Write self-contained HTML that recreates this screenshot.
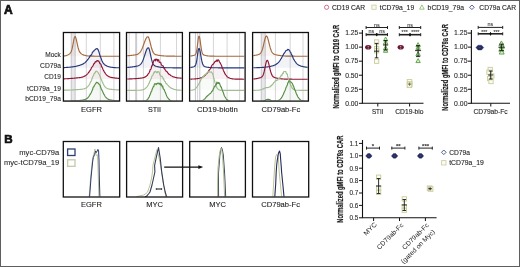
<!DOCTYPE html>
<html><head><meta charset="utf-8"><style>
html,body{margin:0;padding:0;background:#fff;}
svg{display:block;font-family:"Liberation Sans", sans-serif;will-change:transform;}
</style></head><body>
<svg width="520" height="267" viewBox="0 0 520 267">
<rect x="0.5" y="0.5" width="519" height="266" fill="#fff" stroke="#5e5e5e" stroke-width="1"/>
<text x="3.9" y="13.7" font-size="12.0" text-anchor="start" font-weight="bold" fill="#111" stroke="#111" stroke-width="0.7" >A</text>
<text x="4.3" y="142.5" font-size="11.6" text-anchor="start" font-weight="bold" fill="#111" stroke="#111" stroke-width="0.7" >B</text>
<rect x="70.8" y="32.5" width="4.80" height="68.60" fill="#e8e8ec"/>
<line x1="71.3" y1="32.5" x2="71.3" y2="101.1" stroke="#c8c8ce" stroke-width="1"/>
<line x1="75.1" y1="32.5" x2="75.1" y2="101.1" stroke="#c8c8ce" stroke-width="1"/>
<line x1="86.3" y1="32.5" x2="86.3" y2="101.1" stroke="#d6d6da" stroke-width="1"/>
<line x1="100.3" y1="32.5" x2="100.3" y2="101.1" stroke="#d6d6da" stroke-width="1"/>
<line x1="113.9" y1="32.5" x2="113.9" y2="101.1" stroke="#d6d6da" stroke-width="1"/>
<clipPath id="c63_32"><rect x="64.0" y="33.1" width="55.00" height="67.40"/></clipPath>
<g clip-path="url(#c63_32)">
<path d="M64.00,55.98 L64.50,55.91 L65.00,55.82 L65.50,55.71 L66.00,55.58 L66.50,55.42 L67.00,55.24 L67.50,55.03 L68.00,54.79 L68.50,54.52 L69.00,54.21 L69.50,53.85 L70.00,53.41 L70.50,52.82 L71.00,52.00 L71.50,50.83 L72.00,49.17 L72.50,46.99 L73.00,44.36 L73.50,41.54 L74.00,38.97 L74.50,37.16 L75.00,36.50 L75.50,36.98 L76.00,38.33 L76.50,40.32 L77.00,42.66 L77.50,45.05 L78.00,47.23 L78.50,49.08 L79.00,50.54 L79.50,51.64 L80.00,52.45 L80.50,53.05 L81.00,53.50 L81.50,53.87 L82.00,54.18 L82.50,54.45 L83.00,54.69 L83.50,54.90 L84.00,55.10 L84.50,55.27 L85.00,55.42 L85.50,55.56 L86.00,55.67 L86.50,55.77 L87.00,55.86 L87.50,55.93 L88.00,55.98 L88.50,56.03 L89.00,56.07 L89.50,56.10 L90.00,56.12 L90.50,56.14 L91.00,56.16 L91.50,56.17 L92.00,56.18 L92.50,56.18 L93.00,56.19 L93.50,56.19 L94.00,56.19 L94.50,56.20 L95.00,56.20 L95.50,56.20 L96.00,56.20 L96.50,56.20 L97.00,56.20 L97.50,56.20 L98.00,56.20 L98.50,56.20 L99.00,56.20 L99.50,56.20 L100.00,56.20 L100.50,56.20 L101.00,56.20 L101.50,56.20 L102.00,56.20 L102.50,56.20 L103.00,56.20 L103.50,56.20 L104.00,56.20 L104.50,56.20 L105.00,56.20 L105.50,56.20 L106.00,56.20 L106.50,56.20 L107.00,56.20 L107.50,56.20 L108.00,56.20 L108.50,56.20 L109.00,56.20 L109.50,56.20 L110.00,56.20 L110.50,56.20 L111.00,56.20 L111.50,56.20 L112.00,56.20 L112.50,56.20 L113.00,56.20 L113.50,56.20 L114.00,56.20 L114.50,56.20 L115.00,56.20 L115.50,56.20 L116.00,56.20 L116.50,56.20 L117.00,56.20 L117.50,56.20 L118.00,56.20 L118.50,56.20 L119.00,56.20 L119.00,56.2 L64.00,56.2 Z" fill="#a36a40" fill-opacity="0.06" stroke="none"/>
<path d="M64.00,55.98 L64.50,55.91 L65.00,55.82 L65.50,55.71 L66.00,55.58 L66.50,55.42 L67.00,55.24 L67.50,55.03 L68.00,54.79 L68.50,54.52 L69.00,54.21 L69.50,53.85 L70.00,53.41 L70.50,52.82 L71.00,52.00 L71.50,50.83 L72.00,49.17 L72.50,46.99 L73.00,44.36 L73.50,41.54 L74.00,38.97 L74.50,37.16 L75.00,36.50 L75.50,36.98 L76.00,38.33 L76.50,40.32 L77.00,42.66 L77.50,45.05 L78.00,47.23 L78.50,49.08 L79.00,50.54 L79.50,51.64 L80.00,52.45 L80.50,53.05 L81.00,53.50 L81.50,53.87 L82.00,54.18 L82.50,54.45 L83.00,54.69 L83.50,54.90 L84.00,55.10 L84.50,55.27 L85.00,55.42 L85.50,55.56 L86.00,55.67 L86.50,55.77 L87.00,55.86 L87.50,55.93 L88.00,55.98 L88.50,56.03 L89.00,56.07 L89.50,56.10 L90.00,56.12 L90.50,56.14 L91.00,56.16 L91.50,56.17 L92.00,56.18 L92.50,56.18 L93.00,56.19 L93.50,56.19 L94.00,56.19 L94.50,56.20 L95.00,56.20 L95.50,56.20 L96.00,56.20 L96.50,56.20 L97.00,56.20 L97.50,56.20 L98.00,56.20 L98.50,56.20 L99.00,56.20 L99.50,56.20 L100.00,56.20 L100.50,56.20 L101.00,56.20 L101.50,56.20 L102.00,56.20 L102.50,56.20 L103.00,56.20 L103.50,56.20 L104.00,56.20 L104.50,56.20 L105.00,56.20 L105.50,56.20 L106.00,56.20 L106.50,56.20 L107.00,56.20 L107.50,56.20 L108.00,56.20 L108.50,56.20 L109.00,56.20 L109.50,56.20 L110.00,56.20 L110.50,56.20 L111.00,56.20 L111.50,56.20 L112.00,56.20 L112.50,56.20 L113.00,56.20 L113.50,56.20 L114.00,56.20 L114.50,56.20 L115.00,56.20 L115.50,56.20 L116.00,56.20 L116.50,56.20 L117.00,56.20 L117.50,56.20 L118.00,56.20 L118.50,56.20 L119.00,56.20" fill="none" stroke="#a36a40" stroke-width="1.15" stroke-linejoin="round"/>
<path d="M64.00,67.58 L64.50,67.56 L65.00,67.53 L65.50,67.50 L66.00,67.48 L66.50,67.44 L67.00,67.41 L67.50,67.37 L68.00,67.33 L68.50,67.29 L69.00,67.25 L69.50,67.20 L70.00,67.15 L70.50,67.09 L71.00,67.04 L71.50,66.98 L72.00,66.91 L72.50,66.86 L73.00,66.77 L73.50,66.71 L74.00,66.60 L74.50,66.52 L75.00,66.49 L75.50,66.40 L76.00,66.21 L76.50,66.18 L77.00,66.07 L77.50,65.85 L78.00,65.80 L78.50,65.61 L79.00,65.54 L79.50,65.36 L80.00,65.30 L80.50,65.03 L81.00,64.80 L81.50,64.68 L82.00,64.40 L82.50,64.18 L83.00,64.10 L83.50,63.60 L84.00,63.34 L84.50,63.10 L85.00,62.83 L85.50,62.05 L86.00,61.76 L86.50,61.13 L87.00,60.48 L87.50,59.97 L88.00,59.18 L88.50,58.86 L89.00,57.83 L89.50,57.36 L90.00,56.15 L90.50,55.38 L91.00,55.35 L91.50,54.53 L92.00,53.67 L92.50,52.02 L93.00,51.94 L93.50,51.02 L94.00,50.86 L94.50,50.05 L95.00,49.79 L95.50,49.50 L96.00,48.92 L96.50,48.79 L97.00,48.52 L97.50,49.04 L98.00,49.47 L98.50,50.70 L99.00,51.91 L99.50,53.81 L100.00,55.88 L100.50,56.77 L101.00,58.17 L101.50,59.56 L102.00,60.93 L102.50,61.85 L103.00,62.89 L103.50,63.34 L104.00,64.00 L104.50,64.56 L105.00,65.00 L105.50,65.16 L106.00,65.43 L106.50,65.85 L107.00,65.97 L107.50,66.23 L108.00,66.45 L108.50,66.60 L109.00,66.71 L109.50,66.87 L110.00,67.00 L110.50,67.11 L111.00,67.21 L111.50,67.30 L112.00,67.38 L112.50,67.44 L113.00,67.50 L113.50,67.55 L114.00,67.60 L114.50,67.63 L115.00,67.66 L115.50,67.69 L116.00,67.71 L116.50,67.73 L117.00,67.74 L117.50,67.75 L118.00,67.76 L118.50,67.77 L119.00,67.78 L119.00,67.8 L64.00,67.8 Z" fill="#26367a" fill-opacity="0.06" stroke="none"/>
<path d="M64.00,67.58 L64.50,67.56 L65.00,67.53 L65.50,67.50 L66.00,67.48 L66.50,67.44 L67.00,67.41 L67.50,67.37 L68.00,67.33 L68.50,67.29 L69.00,67.25 L69.50,67.20 L70.00,67.15 L70.50,67.09 L71.00,67.04 L71.50,66.98 L72.00,66.91 L72.50,66.86 L73.00,66.77 L73.50,66.71 L74.00,66.60 L74.50,66.52 L75.00,66.49 L75.50,66.40 L76.00,66.21 L76.50,66.18 L77.00,66.07 L77.50,65.85 L78.00,65.80 L78.50,65.61 L79.00,65.54 L79.50,65.36 L80.00,65.30 L80.50,65.03 L81.00,64.80 L81.50,64.68 L82.00,64.40 L82.50,64.18 L83.00,64.10 L83.50,63.60 L84.00,63.34 L84.50,63.10 L85.00,62.83 L85.50,62.05 L86.00,61.76 L86.50,61.13 L87.00,60.48 L87.50,59.97 L88.00,59.18 L88.50,58.86 L89.00,57.83 L89.50,57.36 L90.00,56.15 L90.50,55.38 L91.00,55.35 L91.50,54.53 L92.00,53.67 L92.50,52.02 L93.00,51.94 L93.50,51.02 L94.00,50.86 L94.50,50.05 L95.00,49.79 L95.50,49.50 L96.00,48.92 L96.50,48.79 L97.00,48.52 L97.50,49.04 L98.00,49.47 L98.50,50.70 L99.00,51.91 L99.50,53.81 L100.00,55.88 L100.50,56.77 L101.00,58.17 L101.50,59.56 L102.00,60.93 L102.50,61.85 L103.00,62.89 L103.50,63.34 L104.00,64.00 L104.50,64.56 L105.00,65.00 L105.50,65.16 L106.00,65.43 L106.50,65.85 L107.00,65.97 L107.50,66.23 L108.00,66.45 L108.50,66.60 L109.00,66.71 L109.50,66.87 L110.00,67.00 L110.50,67.11 L111.00,67.21 L111.50,67.30 L112.00,67.38 L112.50,67.44 L113.00,67.50 L113.50,67.55 L114.00,67.60 L114.50,67.63 L115.00,67.66 L115.50,67.69 L116.00,67.71 L116.50,67.73 L117.00,67.74 L117.50,67.75 L118.00,67.76 L118.50,67.77 L119.00,67.78" fill="none" stroke="#26367a" stroke-width="1.15" stroke-linejoin="round"/>
<path d="M64.00,78.85 L64.50,78.83 L65.00,78.80 L65.50,78.78 L66.00,78.75 L66.50,78.73 L67.00,78.70 L67.50,78.67 L68.00,78.64 L68.50,78.61 L69.00,78.58 L69.50,78.55 L70.00,78.51 L70.50,78.48 L71.00,78.44 L71.50,78.40 L72.00,78.36 L72.50,78.32 L73.00,78.28 L73.50,78.21 L74.00,78.23 L74.50,78.14 L75.00,78.15 L75.50,78.04 L76.00,78.03 L76.50,77.92 L77.00,77.86 L77.50,77.85 L78.00,77.74 L78.50,77.76 L79.00,77.72 L79.50,77.59 L80.00,77.59 L80.50,77.49 L81.00,77.37 L81.50,77.23 L82.00,77.19 L82.50,77.08 L83.00,76.77 L83.50,76.70 L84.00,76.36 L84.50,76.12 L85.00,75.98 L85.50,75.65 L86.00,75.27 L86.50,74.82 L87.00,74.38 L87.50,73.88 L88.00,73.29 L88.50,72.49 L89.00,72.04 L89.50,71.36 L90.00,70.39 L90.50,69.92 L91.00,69.03 L91.50,67.56 L92.00,67.08 L92.50,66.17 L93.00,65.89 L93.50,64.61 L94.00,63.63 L94.50,63.63 L95.00,62.21 L95.50,61.64 L96.00,62.01 L96.50,60.88 L97.00,60.92 L97.50,60.54 L98.00,61.11 L98.50,60.89 L99.00,61.33 L99.50,62.95 L100.00,63.65 L100.50,63.77 L101.00,64.45 L101.50,66.29 L102.00,67.15 L102.50,68.10 L103.00,69.39 L103.50,70.37 L104.00,71.35 L104.50,72.20 L105.00,72.89 L105.50,73.75 L106.00,74.36 L106.50,74.78 L107.00,75.51 L107.50,75.76 L108.00,76.07 L108.50,76.47 L109.00,76.74 L109.50,76.84 L110.00,77.12 L110.50,77.27 L111.00,77.36 L111.50,77.44 L112.00,77.61 L112.50,77.67 L113.00,77.75 L113.50,77.77 L114.00,77.88 L114.50,77.90 L115.00,78.03 L115.50,78.07 L116.00,78.10 L116.50,78.14 L117.00,78.23 L117.50,78.30 L118.00,78.33 L118.50,78.38 L119.00,78.42 L119.00,79.2 L64.00,79.2 Z" fill="#8e1533" fill-opacity="0.06" stroke="none"/>
<path d="M64.00,78.85 L64.50,78.83 L65.00,78.80 L65.50,78.78 L66.00,78.75 L66.50,78.73 L67.00,78.70 L67.50,78.67 L68.00,78.64 L68.50,78.61 L69.00,78.58 L69.50,78.55 L70.00,78.51 L70.50,78.48 L71.00,78.44 L71.50,78.40 L72.00,78.36 L72.50,78.32 L73.00,78.28 L73.50,78.21 L74.00,78.23 L74.50,78.14 L75.00,78.15 L75.50,78.04 L76.00,78.03 L76.50,77.92 L77.00,77.86 L77.50,77.85 L78.00,77.74 L78.50,77.76 L79.00,77.72 L79.50,77.59 L80.00,77.59 L80.50,77.49 L81.00,77.37 L81.50,77.23 L82.00,77.19 L82.50,77.08 L83.00,76.77 L83.50,76.70 L84.00,76.36 L84.50,76.12 L85.00,75.98 L85.50,75.65 L86.00,75.27 L86.50,74.82 L87.00,74.38 L87.50,73.88 L88.00,73.29 L88.50,72.49 L89.00,72.04 L89.50,71.36 L90.00,70.39 L90.50,69.92 L91.00,69.03 L91.50,67.56 L92.00,67.08 L92.50,66.17 L93.00,65.89 L93.50,64.61 L94.00,63.63 L94.50,63.63 L95.00,62.21 L95.50,61.64 L96.00,62.01 L96.50,60.88 L97.00,60.92 L97.50,60.54 L98.00,61.11 L98.50,60.89 L99.00,61.33 L99.50,62.95 L100.00,63.65 L100.50,63.77 L101.00,64.45 L101.50,66.29 L102.00,67.15 L102.50,68.10 L103.00,69.39 L103.50,70.37 L104.00,71.35 L104.50,72.20 L105.00,72.89 L105.50,73.75 L106.00,74.36 L106.50,74.78 L107.00,75.51 L107.50,75.76 L108.00,76.07 L108.50,76.47 L109.00,76.74 L109.50,76.84 L110.00,77.12 L110.50,77.27 L111.00,77.36 L111.50,77.44 L112.00,77.61 L112.50,77.67 L113.00,77.75 L113.50,77.77 L114.00,77.88 L114.50,77.90 L115.00,78.03 L115.50,78.07 L116.00,78.10 L116.50,78.14 L117.00,78.23 L117.50,78.30 L118.00,78.33 L118.50,78.38 L119.00,78.42" fill="none" stroke="#8e1533" stroke-width="1.15" stroke-linejoin="round"/>
<path d="M64.00,90.20 L64.50,90.19 L65.00,90.18 L65.50,90.17 L66.00,90.16 L66.50,90.15 L67.00,90.13 L67.50,90.12 L68.00,90.11 L68.50,90.09 L69.00,90.07 L69.50,90.06 L70.00,90.04 L70.50,90.02 L71.00,90.00 L71.50,89.97 L72.00,89.95 L72.50,89.93 L73.00,89.90 L73.50,89.87 L74.00,89.85 L74.50,89.82 L75.00,89.79 L75.50,89.76 L76.00,89.72 L76.50,89.69 L77.00,89.65 L77.50,89.62 L78.00,89.58 L78.50,89.54 L79.00,89.50 L79.50,89.46 L80.00,89.41 L80.50,89.36 L81.00,89.34 L81.50,89.25 L82.00,89.22 L82.50,89.08 L83.00,88.99 L83.50,88.96 L84.00,88.82 L84.50,88.61 L85.00,88.44 L85.50,88.19 L86.00,88.00 L86.50,87.73 L87.00,87.31 L87.50,86.72 L88.00,86.33 L88.50,85.69 L89.00,84.95 L89.50,84.14 L90.00,83.26 L90.50,81.95 L91.00,81.42 L91.50,80.46 L92.00,78.49 L92.50,77.35 L93.00,76.04 L93.50,75.54 L94.00,73.86 L94.50,72.94 L95.00,73.12 L95.50,71.75 L96.00,71.17 L96.50,71.19 L97.00,71.39 L97.50,71.98 L98.00,72.39 L98.50,73.27 L99.00,74.39 L99.50,74.80 L100.00,76.37 L100.50,77.09 L101.00,79.14 L101.50,79.69 L102.00,81.13 L102.50,82.18 L103.00,83.31 L103.50,84.31 L104.00,85.32 L104.50,86.26 L105.00,86.65 L105.50,87.33 L106.00,87.73 L106.50,88.01 L107.00,88.32 L107.50,88.57 L108.00,88.69 L108.50,88.88 L109.00,89.03 L109.50,89.13 L110.00,89.16 L110.50,89.27 L111.00,89.31 L111.50,89.39 L112.00,89.44 L112.50,89.49 L113.00,89.54 L113.50,89.58 L114.00,89.62 L114.50,89.66 L115.00,89.70 L115.50,89.74 L116.00,89.77 L116.50,89.81 L117.00,89.84 L117.50,89.87 L118.00,89.90 L118.50,89.93 L119.00,89.96 L119.00,90.3 L64.00,90.3 Z" fill="#a0bd90" fill-opacity="0.06" stroke="none"/>
<path d="M64.00,90.20 L64.50,90.19 L65.00,90.18 L65.50,90.17 L66.00,90.16 L66.50,90.15 L67.00,90.13 L67.50,90.12 L68.00,90.11 L68.50,90.09 L69.00,90.07 L69.50,90.06 L70.00,90.04 L70.50,90.02 L71.00,90.00 L71.50,89.97 L72.00,89.95 L72.50,89.93 L73.00,89.90 L73.50,89.87 L74.00,89.85 L74.50,89.82 L75.00,89.79 L75.50,89.76 L76.00,89.72 L76.50,89.69 L77.00,89.65 L77.50,89.62 L78.00,89.58 L78.50,89.54 L79.00,89.50 L79.50,89.46 L80.00,89.41 L80.50,89.36 L81.00,89.34 L81.50,89.25 L82.00,89.22 L82.50,89.08 L83.00,88.99 L83.50,88.96 L84.00,88.82 L84.50,88.61 L85.00,88.44 L85.50,88.19 L86.00,88.00 L86.50,87.73 L87.00,87.31 L87.50,86.72 L88.00,86.33 L88.50,85.69 L89.00,84.95 L89.50,84.14 L90.00,83.26 L90.50,81.95 L91.00,81.42 L91.50,80.46 L92.00,78.49 L92.50,77.35 L93.00,76.04 L93.50,75.54 L94.00,73.86 L94.50,72.94 L95.00,73.12 L95.50,71.75 L96.00,71.17 L96.50,71.19 L97.00,71.39 L97.50,71.98 L98.00,72.39 L98.50,73.27 L99.00,74.39 L99.50,74.80 L100.00,76.37 L100.50,77.09 L101.00,79.14 L101.50,79.69 L102.00,81.13 L102.50,82.18 L103.00,83.31 L103.50,84.31 L104.00,85.32 L104.50,86.26 L105.00,86.65 L105.50,87.33 L106.00,87.73 L106.50,88.01 L107.00,88.32 L107.50,88.57 L108.00,88.69 L108.50,88.88 L109.00,89.03 L109.50,89.13 L110.00,89.16 L110.50,89.27 L111.00,89.31 L111.50,89.39 L112.00,89.44 L112.50,89.49 L113.00,89.54 L113.50,89.58 L114.00,89.62 L114.50,89.66 L115.00,89.70 L115.50,89.74 L116.00,89.77 L116.50,89.81 L117.00,89.84 L117.50,89.87 L118.00,89.90 L118.50,89.93 L119.00,89.96" fill="none" stroke="#a0bd90" stroke-width="1.15" stroke-linejoin="round"/>
<path d="M64.00,101.20 L64.50,101.19 L65.00,101.18 L65.50,101.16 L66.00,101.15 L66.50,101.14 L67.00,101.13 L67.50,101.11 L68.00,101.10 L68.50,101.08 L69.00,101.07 L69.50,101.05 L70.00,101.03 L70.50,101.01 L71.00,100.99 L71.50,100.97 L72.00,100.94 L72.50,100.92 L73.00,100.89 L73.50,100.87 L74.00,100.84 L74.50,100.81 L75.00,100.78 L75.50,100.75 L76.00,100.72 L76.50,100.69 L77.00,100.65 L77.50,100.62 L78.00,100.58 L78.50,100.54 L79.00,100.50 L79.50,100.46 L80.00,100.42 L80.50,100.37 L81.00,100.33 L81.50,100.29 L82.00,100.19 L82.50,100.10 L83.00,100.07 L83.50,99.91 L84.00,99.78 L84.50,99.65 L85.00,99.47 L85.50,99.39 L86.00,99.04 L86.50,98.69 L87.00,98.51 L87.50,98.04 L88.00,97.56 L88.50,96.90 L89.00,96.27 L89.50,95.50 L90.00,94.51 L90.50,94.03 L91.00,93.04 L91.50,91.96 L92.00,90.88 L92.50,89.83 L93.00,87.79 L93.50,86.77 L94.00,86.61 L94.50,85.12 L95.00,84.51 L95.50,83.80 L96.00,83.19 L96.50,82.38 L97.00,82.29 L97.50,82.65 L98.00,83.14 L98.50,83.38 L99.00,84.31 L99.50,84.53 L100.00,85.29 L100.50,86.77 L101.00,88.23 L101.50,89.27 L102.00,90.26 L102.50,91.24 L103.00,92.25 L103.50,93.59 L104.00,94.33 L104.50,95.32 L105.00,96.21 L105.50,96.92 L106.00,97.49 L106.50,97.95 L107.00,98.46 L107.50,98.77 L108.00,99.12 L108.50,99.40 L109.00,99.56 L109.50,99.71 L110.00,99.92 L110.50,99.99 L111.00,100.09 L111.50,100.13 L112.00,100.20 L112.50,100.30 L113.00,100.32 L113.50,100.40 L114.00,100.45 L114.50,100.49 L115.00,100.53 L115.50,100.57 L116.00,100.61 L116.50,100.65 L117.00,100.69 L117.50,100.72 L118.00,100.75 L118.50,100.79 L119.00,100.82 L119.00,101.3 L64.00,101.3 Z" fill="#568e44" fill-opacity="0.06" stroke="none"/>
<path d="M64.00,101.20 L64.50,101.19 L65.00,101.18 L65.50,101.16 L66.00,101.15 L66.50,101.14 L67.00,101.13 L67.50,101.11 L68.00,101.10 L68.50,101.08 L69.00,101.07 L69.50,101.05 L70.00,101.03 L70.50,101.01 L71.00,100.99 L71.50,100.97 L72.00,100.94 L72.50,100.92 L73.00,100.89 L73.50,100.87 L74.00,100.84 L74.50,100.81 L75.00,100.78 L75.50,100.75 L76.00,100.72 L76.50,100.69 L77.00,100.65 L77.50,100.62 L78.00,100.58 L78.50,100.54 L79.00,100.50 L79.50,100.46 L80.00,100.42 L80.50,100.37 L81.00,100.33 L81.50,100.29 L82.00,100.19 L82.50,100.10 L83.00,100.07 L83.50,99.91 L84.00,99.78 L84.50,99.65 L85.00,99.47 L85.50,99.39 L86.00,99.04 L86.50,98.69 L87.00,98.51 L87.50,98.04 L88.00,97.56 L88.50,96.90 L89.00,96.27 L89.50,95.50 L90.00,94.51 L90.50,94.03 L91.00,93.04 L91.50,91.96 L92.00,90.88 L92.50,89.83 L93.00,87.79 L93.50,86.77 L94.00,86.61 L94.50,85.12 L95.00,84.51 L95.50,83.80 L96.00,83.19 L96.50,82.38 L97.00,82.29 L97.50,82.65 L98.00,83.14 L98.50,83.38 L99.00,84.31 L99.50,84.53 L100.00,85.29 L100.50,86.77 L101.00,88.23 L101.50,89.27 L102.00,90.26 L102.50,91.24 L103.00,92.25 L103.50,93.59 L104.00,94.33 L104.50,95.32 L105.00,96.21 L105.50,96.92 L106.00,97.49 L106.50,97.95 L107.00,98.46 L107.50,98.77 L108.00,99.12 L108.50,99.40 L109.00,99.56 L109.50,99.71 L110.00,99.92 L110.50,99.99 L111.00,100.09 L111.50,100.13 L112.00,100.20 L112.50,100.30 L113.00,100.32 L113.50,100.40 L114.00,100.45 L114.50,100.49 L115.00,100.53 L115.50,100.57 L116.00,100.61 L116.50,100.65 L117.00,100.69 L117.50,100.72 L118.00,100.75 L118.50,100.79 L119.00,100.82" fill="none" stroke="#568e44" stroke-width="1.15" stroke-linejoin="round"/>
</g>
<rect x="63.4" y="32.5" width="56.199999999999996" height="68.6" fill="none" stroke="#111" stroke-width="1.3"/>
<line x1="129.2" y1="32.5" x2="129.2" y2="101.1" stroke="#d6d6da" stroke-width="1"/>
<rect x="135.3" y="32.5" width="1.80" height="68.60" fill="#e8e8ec"/>
<line x1="135.8" y1="32.5" x2="135.8" y2="101.1" stroke="#c8c8ce" stroke-width="1"/>
<line x1="136.6" y1="32.5" x2="136.6" y2="101.1" stroke="#c8c8ce" stroke-width="1"/>
<line x1="143.4" y1="32.5" x2="143.4" y2="101.1" stroke="#d6d6da" stroke-width="1"/>
<line x1="160.4" y1="32.5" x2="160.4" y2="101.1" stroke="#d6d6da" stroke-width="1"/>
<line x1="176.5" y1="32.5" x2="176.5" y2="101.1" stroke="#d6d6da" stroke-width="1"/>
<clipPath id="c126_32"><rect x="127.1" y="33.1" width="54.70" height="67.40"/></clipPath>
<g clip-path="url(#c126_32)">
<path d="M127.10,55.75 L127.60,55.71 L128.10,55.67 L128.61,55.63 L129.11,55.59 L129.61,55.54 L130.11,55.50 L130.61,55.45 L131.11,55.40 L131.62,55.34 L132.12,55.29 L132.62,55.23 L133.12,55.17 L133.62,55.10 L134.13,55.03 L134.63,54.96 L135.13,54.87 L135.63,54.77 L136.13,54.66 L136.63,54.52 L137.14,54.35 L137.64,54.15 L138.14,53.89 L138.64,53.56 L139.14,53.16 L139.65,52.67 L140.15,52.07 L140.65,51.36 L141.15,50.51 L141.65,49.54 L142.16,48.44 L142.66,47.22 L143.16,45.91 L143.66,44.53 L144.16,43.12 L144.66,41.74 L145.17,40.43 L145.67,39.24 L146.17,38.23 L146.67,37.45 L147.17,36.94 L147.68,36.71 L148.18,36.88 L148.68,37.67 L149.18,38.99 L149.68,40.72 L150.18,42.70 L150.69,44.75 L151.19,46.73 L151.69,48.53 L152.19,50.08 L152.69,51.36 L153.20,52.37 L153.70,53.13 L154.20,53.70 L154.70,54.11 L155.20,54.41 L155.70,54.63 L156.21,54.80 L156.71,54.93 L157.21,55.05 L157.71,55.14 L158.21,55.23 L158.72,55.32 L159.22,55.40 L159.72,55.47 L160.22,55.54 L160.72,55.61 L161.22,55.67 L161.73,55.72 L162.23,55.78 L162.73,55.83 L163.23,55.87 L163.73,55.91 L164.24,55.95 L164.74,55.98 L165.24,56.01 L165.74,56.03 L166.24,56.06 L166.74,56.08 L167.25,56.10 L167.75,56.11 L168.25,56.12 L168.75,56.14 L169.25,56.15 L169.76,56.16 L170.26,56.16 L170.76,56.17 L171.26,56.17 L171.76,56.18 L172.27,56.18 L172.77,56.19 L173.27,56.19 L173.77,56.19 L174.27,56.19 L174.77,56.19 L175.28,56.20 L175.78,56.20 L176.28,56.20 L176.78,56.20 L177.28,56.20 L177.79,56.20 L178.29,56.20 L178.79,56.20 L179.29,56.20 L179.79,56.20 L180.29,56.20 L180.80,56.20 L181.30,56.20 L181.80,56.20 L181.80,56.2 L127.10,56.2 Z" fill="#a36a40" fill-opacity="0.06" stroke="none"/>
<path d="M127.10,55.75 L127.60,55.71 L128.10,55.67 L128.61,55.63 L129.11,55.59 L129.61,55.54 L130.11,55.50 L130.61,55.45 L131.11,55.40 L131.62,55.34 L132.12,55.29 L132.62,55.23 L133.12,55.17 L133.62,55.10 L134.13,55.03 L134.63,54.96 L135.13,54.87 L135.63,54.77 L136.13,54.66 L136.63,54.52 L137.14,54.35 L137.64,54.15 L138.14,53.89 L138.64,53.56 L139.14,53.16 L139.65,52.67 L140.15,52.07 L140.65,51.36 L141.15,50.51 L141.65,49.54 L142.16,48.44 L142.66,47.22 L143.16,45.91 L143.66,44.53 L144.16,43.12 L144.66,41.74 L145.17,40.43 L145.67,39.24 L146.17,38.23 L146.67,37.45 L147.17,36.94 L147.68,36.71 L148.18,36.88 L148.68,37.67 L149.18,38.99 L149.68,40.72 L150.18,42.70 L150.69,44.75 L151.19,46.73 L151.69,48.53 L152.19,50.08 L152.69,51.36 L153.20,52.37 L153.70,53.13 L154.20,53.70 L154.70,54.11 L155.20,54.41 L155.70,54.63 L156.21,54.80 L156.71,54.93 L157.21,55.05 L157.71,55.14 L158.21,55.23 L158.72,55.32 L159.22,55.40 L159.72,55.47 L160.22,55.54 L160.72,55.61 L161.22,55.67 L161.73,55.72 L162.23,55.78 L162.73,55.83 L163.23,55.87 L163.73,55.91 L164.24,55.95 L164.74,55.98 L165.24,56.01 L165.74,56.03 L166.24,56.06 L166.74,56.08 L167.25,56.10 L167.75,56.11 L168.25,56.12 L168.75,56.14 L169.25,56.15 L169.76,56.16 L170.26,56.16 L170.76,56.17 L171.26,56.17 L171.76,56.18 L172.27,56.18 L172.77,56.19 L173.27,56.19 L173.77,56.19 L174.27,56.19 L174.77,56.19 L175.28,56.20 L175.78,56.20 L176.28,56.20 L176.78,56.20 L177.28,56.20 L177.79,56.20 L178.29,56.20 L178.79,56.20 L179.29,56.20 L179.79,56.20 L180.29,56.20 L180.80,56.20 L181.30,56.20 L181.80,56.20" fill="none" stroke="#a36a40" stroke-width="1.15" stroke-linejoin="round"/>
<path d="M127.10,67.45 L127.60,67.42 L128.10,67.38 L128.61,67.33 L129.11,67.29 L129.61,67.24 L130.11,67.19 L130.61,67.13 L131.11,67.07 L131.62,67.01 L132.12,66.94 L132.62,66.87 L133.12,66.80 L133.62,66.73 L134.13,66.65 L134.63,66.57 L135.13,66.48 L135.63,66.39 L136.13,66.29 L136.63,66.18 L137.14,66.07 L137.64,65.93 L138.14,65.77 L138.64,65.57 L139.14,65.33 L139.65,65.03 L140.15,64.65 L140.65,64.17 L141.15,63.57 L141.65,62.83 L142.16,61.95 L142.66,60.90 L143.16,59.70 L143.66,58.35 L144.16,56.88 L144.66,55.33 L145.17,53.75 L145.67,52.22 L146.17,50.81 L146.67,49.59 L147.17,48.63 L147.68,47.99 L148.18,47.71 L148.68,47.96 L149.18,49.04 L149.68,50.83 L150.18,53.07 L150.69,55.49 L151.19,57.84 L151.69,59.95 L152.19,61.69 L152.69,63.06 L153.20,64.07 L153.70,64.80 L154.20,65.31 L154.70,65.67 L155.20,65.93 L155.70,66.13 L156.21,66.30 L156.71,66.45 L157.21,66.58 L157.71,66.71 L158.21,66.82 L158.72,66.93 L159.22,67.03 L159.72,67.13 L160.22,67.21 L160.72,67.29 L161.22,67.36 L161.73,67.42 L162.23,67.47 L162.73,67.52 L163.23,67.57 L163.73,67.60 L164.24,67.64 L164.74,67.66 L165.24,67.69 L165.74,67.71 L166.24,67.73 L166.74,67.74 L167.25,67.75 L167.75,67.76 L168.25,67.77 L168.75,67.78 L169.25,67.78 L169.76,67.78 L170.26,67.79 L170.76,67.79 L171.26,67.79 L171.76,67.79 L172.27,67.80 L172.77,67.80 L173.27,67.80 L173.77,67.80 L174.27,67.80 L174.77,67.80 L175.28,67.80 L175.78,67.80 L176.28,67.80 L176.78,67.80 L177.28,67.80 L177.79,67.80 L178.29,67.80 L178.79,67.80 L179.29,67.80 L179.79,67.80 L180.29,67.80 L180.80,67.80 L181.30,67.80 L181.80,67.80 L181.80,67.8 L127.10,67.8 Z" fill="#26367a" fill-opacity="0.06" stroke="none"/>
<path d="M127.10,67.45 L127.60,67.42 L128.10,67.38 L128.61,67.33 L129.11,67.29 L129.61,67.24 L130.11,67.19 L130.61,67.13 L131.11,67.07 L131.62,67.01 L132.12,66.94 L132.62,66.87 L133.12,66.80 L133.62,66.73 L134.13,66.65 L134.63,66.57 L135.13,66.48 L135.63,66.39 L136.13,66.29 L136.63,66.18 L137.14,66.07 L137.64,65.93 L138.14,65.77 L138.64,65.57 L139.14,65.33 L139.65,65.03 L140.15,64.65 L140.65,64.17 L141.15,63.57 L141.65,62.83 L142.16,61.95 L142.66,60.90 L143.16,59.70 L143.66,58.35 L144.16,56.88 L144.66,55.33 L145.17,53.75 L145.67,52.22 L146.17,50.81 L146.67,49.59 L147.17,48.63 L147.68,47.99 L148.18,47.71 L148.68,47.96 L149.18,49.04 L149.68,50.83 L150.18,53.07 L150.69,55.49 L151.19,57.84 L151.69,59.95 L152.19,61.69 L152.69,63.06 L153.20,64.07 L153.70,64.80 L154.20,65.31 L154.70,65.67 L155.20,65.93 L155.70,66.13 L156.21,66.30 L156.71,66.45 L157.21,66.58 L157.71,66.71 L158.21,66.82 L158.72,66.93 L159.22,67.03 L159.72,67.13 L160.22,67.21 L160.72,67.29 L161.22,67.36 L161.73,67.42 L162.23,67.47 L162.73,67.52 L163.23,67.57 L163.73,67.60 L164.24,67.64 L164.74,67.66 L165.24,67.69 L165.74,67.71 L166.24,67.73 L166.74,67.74 L167.25,67.75 L167.75,67.76 L168.25,67.77 L168.75,67.78 L169.25,67.78 L169.76,67.78 L170.26,67.79 L170.76,67.79 L171.26,67.79 L171.76,67.79 L172.27,67.80 L172.77,67.80 L173.27,67.80 L173.77,67.80 L174.27,67.80 L174.77,67.80 L175.28,67.80 L175.78,67.80 L176.28,67.80 L176.78,67.80 L177.28,67.80 L177.79,67.80 L178.29,67.80 L178.79,67.80 L179.29,67.80 L179.79,67.80 L180.29,67.80 L180.80,67.80 L181.30,67.80 L181.80,67.80" fill="none" stroke="#26367a" stroke-width="1.15" stroke-linejoin="round"/>
<path d="M127.10,79.02 L127.60,79.01 L128.10,78.99 L128.61,78.97 L129.11,78.95 L129.61,78.93 L130.11,78.91 L130.61,78.89 L131.11,78.87 L131.62,78.84 L132.12,78.82 L132.62,78.79 L133.12,78.76 L133.62,78.73 L134.13,78.70 L134.63,78.67 L135.13,78.64 L135.63,78.60 L136.13,78.57 L136.63,78.53 L137.14,78.49 L137.64,78.45 L138.14,78.41 L138.64,78.37 L139.14,78.32 L139.65,78.27 L140.15,78.22 L140.65,78.12 L141.15,78.14 L141.65,78.03 L142.16,78.01 L142.66,77.79 L143.16,77.70 L143.66,77.50 L144.16,77.34 L144.66,77.16 L145.17,76.88 L145.67,76.61 L146.17,76.42 L146.67,75.77 L147.17,75.55 L147.68,74.87 L148.18,73.72 L148.68,73.49 L149.18,72.58 L149.68,71.61 L150.18,69.57 L150.69,69.35 L151.19,68.44 L151.69,65.81 L152.19,65.93 L152.69,63.27 L153.20,62.49 L153.70,61.07 L154.20,59.89 L154.70,60.15 L155.20,59.21 L155.70,60.91 L156.21,59.21 L156.71,59.66 L157.21,59.27 L157.71,61.15 L158.21,59.77 L158.72,59.71 L159.22,62.40 L159.72,62.26 L160.22,62.27 L160.72,62.32 L161.22,64.30 L161.73,65.11 L162.23,65.68 L162.73,65.72 L163.23,66.25 L163.73,67.63 L164.24,68.41 L164.74,69.10 L165.24,69.87 L165.74,70.47 L166.24,71.51 L166.74,71.68 L167.25,71.82 L167.75,72.93 L168.25,73.18 L168.75,74.13 L169.25,74.21 L169.76,74.60 L170.26,75.04 L170.76,75.48 L171.26,75.81 L171.76,76.03 L172.27,76.19 L172.77,76.71 L173.27,76.92 L173.77,76.89 L174.27,77.00 L174.77,77.26 L175.28,77.41 L175.78,77.45 L176.28,77.67 L176.78,77.74 L177.28,77.83 L177.79,77.82 L178.29,77.94 L178.79,78.01 L179.29,77.98 L179.79,77.98 L180.29,78.13 L180.80,78.11 L181.30,78.19 L181.80,78.16 L181.80,79.2 L127.10,79.2 Z" fill="#8e1533" fill-opacity="0.06" stroke="none"/>
<path d="M127.10,79.02 L127.60,79.01 L128.10,78.99 L128.61,78.97 L129.11,78.95 L129.61,78.93 L130.11,78.91 L130.61,78.89 L131.11,78.87 L131.62,78.84 L132.12,78.82 L132.62,78.79 L133.12,78.76 L133.62,78.73 L134.13,78.70 L134.63,78.67 L135.13,78.64 L135.63,78.60 L136.13,78.57 L136.63,78.53 L137.14,78.49 L137.64,78.45 L138.14,78.41 L138.64,78.37 L139.14,78.32 L139.65,78.27 L140.15,78.22 L140.65,78.12 L141.15,78.14 L141.65,78.03 L142.16,78.01 L142.66,77.79 L143.16,77.70 L143.66,77.50 L144.16,77.34 L144.66,77.16 L145.17,76.88 L145.67,76.61 L146.17,76.42 L146.67,75.77 L147.17,75.55 L147.68,74.87 L148.18,73.72 L148.68,73.49 L149.18,72.58 L149.68,71.61 L150.18,69.57 L150.69,69.35 L151.19,68.44 L151.69,65.81 L152.19,65.93 L152.69,63.27 L153.20,62.49 L153.70,61.07 L154.20,59.89 L154.70,60.15 L155.20,59.21 L155.70,60.91 L156.21,59.21 L156.71,59.66 L157.21,59.27 L157.71,61.15 L158.21,59.77 L158.72,59.71 L159.22,62.40 L159.72,62.26 L160.22,62.27 L160.72,62.32 L161.22,64.30 L161.73,65.11 L162.23,65.68 L162.73,65.72 L163.23,66.25 L163.73,67.63 L164.24,68.41 L164.74,69.10 L165.24,69.87 L165.74,70.47 L166.24,71.51 L166.74,71.68 L167.25,71.82 L167.75,72.93 L168.25,73.18 L168.75,74.13 L169.25,74.21 L169.76,74.60 L170.26,75.04 L170.76,75.48 L171.26,75.81 L171.76,76.03 L172.27,76.19 L172.77,76.71 L173.27,76.92 L173.77,76.89 L174.27,77.00 L174.77,77.26 L175.28,77.41 L175.78,77.45 L176.28,77.67 L176.78,77.74 L177.28,77.83 L177.79,77.82 L178.29,77.94 L178.79,78.01 L179.29,77.98 L179.79,77.98 L180.29,78.13 L180.80,78.11 L181.30,78.19 L181.80,78.16" fill="none" stroke="#8e1533" stroke-width="1.15" stroke-linejoin="round"/>
<path d="M127.10,90.30 L127.60,90.30 L128.10,90.30 L128.61,90.30 L129.11,90.30 L129.61,90.30 L130.11,90.30 L130.61,90.30 L131.11,90.30 L131.62,90.30 L132.12,90.30 L132.62,90.30 L133.12,90.30 L133.62,90.30 L134.13,90.30 L134.63,90.30 L135.13,90.30 L135.63,90.30 L136.13,90.29 L136.63,90.29 L137.14,90.28 L137.64,90.28 L138.14,90.27 L138.64,90.26 L139.14,90.24 L139.65,90.21 L140.15,90.18 L140.65,90.13 L141.15,90.07 L141.65,90.00 L142.16,89.90 L142.66,89.77 L143.16,89.61 L143.66,89.41 L144.16,89.16 L144.66,88.93 L145.17,88.60 L145.67,88.27 L146.17,87.62 L146.67,87.10 L147.17,86.59 L147.68,85.75 L148.18,84.99 L148.68,83.65 L149.18,83.38 L149.68,81.27 L150.18,80.87 L150.69,79.56 L151.19,78.65 L151.69,76.79 L152.19,75.67 L152.69,75.22 L153.20,74.46 L153.70,72.98 L154.20,71.87 L154.70,72.60 L155.20,71.33 L155.70,71.33 L156.21,71.80 L156.71,72.59 L157.21,72.73 L157.71,71.56 L158.21,72.01 L158.72,71.63 L159.22,72.42 L159.72,74.58 L160.22,75.28 L160.72,75.71 L161.22,76.53 L161.73,76.06 L162.23,76.50 L162.73,77.21 L163.23,79.21 L163.73,78.90 L164.24,80.59 L164.74,81.15 L165.24,81.46 L165.74,83.00 L166.24,83.63 L166.74,83.47 L167.25,84.63 L167.75,85.15 L168.25,85.51 L168.75,85.97 L169.25,86.85 L169.76,87.08 L170.26,87.42 L170.76,87.76 L171.26,88.19 L171.76,88.35 L172.27,88.52 L172.77,88.90 L173.27,89.07 L173.77,89.32 L174.27,89.42 L174.77,89.56 L175.28,89.67 L175.78,89.78 L176.28,89.86 L176.78,89.94 L177.28,90.00 L177.79,90.06 L178.29,90.10 L178.79,90.14 L179.29,90.17 L179.79,90.19 L180.29,90.22 L180.80,90.23 L181.30,90.25 L181.80,90.26 L181.80,90.3 L127.10,90.3 Z" fill="#a0bd90" fill-opacity="0.06" stroke="none"/>
<path d="M127.10,90.30 L127.60,90.30 L128.10,90.30 L128.61,90.30 L129.11,90.30 L129.61,90.30 L130.11,90.30 L130.61,90.30 L131.11,90.30 L131.62,90.30 L132.12,90.30 L132.62,90.30 L133.12,90.30 L133.62,90.30 L134.13,90.30 L134.63,90.30 L135.13,90.30 L135.63,90.30 L136.13,90.29 L136.63,90.29 L137.14,90.28 L137.64,90.28 L138.14,90.27 L138.64,90.26 L139.14,90.24 L139.65,90.21 L140.15,90.18 L140.65,90.13 L141.15,90.07 L141.65,90.00 L142.16,89.90 L142.66,89.77 L143.16,89.61 L143.66,89.41 L144.16,89.16 L144.66,88.93 L145.17,88.60 L145.67,88.27 L146.17,87.62 L146.67,87.10 L147.17,86.59 L147.68,85.75 L148.18,84.99 L148.68,83.65 L149.18,83.38 L149.68,81.27 L150.18,80.87 L150.69,79.56 L151.19,78.65 L151.69,76.79 L152.19,75.67 L152.69,75.22 L153.20,74.46 L153.70,72.98 L154.20,71.87 L154.70,72.60 L155.20,71.33 L155.70,71.33 L156.21,71.80 L156.71,72.59 L157.21,72.73 L157.71,71.56 L158.21,72.01 L158.72,71.63 L159.22,72.42 L159.72,74.58 L160.22,75.28 L160.72,75.71 L161.22,76.53 L161.73,76.06 L162.23,76.50 L162.73,77.21 L163.23,79.21 L163.73,78.90 L164.24,80.59 L164.74,81.15 L165.24,81.46 L165.74,83.00 L166.24,83.63 L166.74,83.47 L167.25,84.63 L167.75,85.15 L168.25,85.51 L168.75,85.97 L169.25,86.85 L169.76,87.08 L170.26,87.42 L170.76,87.76 L171.26,88.19 L171.76,88.35 L172.27,88.52 L172.77,88.90 L173.27,89.07 L173.77,89.32 L174.27,89.42 L174.77,89.56 L175.28,89.67 L175.78,89.78 L176.28,89.86 L176.78,89.94 L177.28,90.00 L177.79,90.06 L178.29,90.10 L178.79,90.14 L179.29,90.17 L179.79,90.19 L180.29,90.22 L180.80,90.23 L181.30,90.25 L181.80,90.26" fill="none" stroke="#a0bd90" stroke-width="1.15" stroke-linejoin="round"/>
<path d="M127.10,101.30 L127.60,101.30 L128.10,101.30 L128.61,101.30 L129.11,101.30 L129.61,101.30 L130.11,101.30 L130.61,101.30 L131.11,101.30 L131.62,101.30 L132.12,101.30 L132.62,101.30 L133.12,101.30 L133.62,101.30 L134.13,101.30 L134.63,101.30 L135.13,101.30 L135.63,101.30 L136.13,101.30 L136.63,101.30 L137.14,101.30 L137.64,101.30 L138.14,101.30 L138.64,101.30 L139.14,101.30 L139.65,101.30 L140.15,101.30 L140.65,101.30 L141.15,101.30 L141.65,101.29 L142.16,101.29 L142.66,101.28 L143.16,101.26 L143.66,101.23 L144.16,101.18 L144.66,101.10 L145.17,100.98 L145.67,100.81 L146.17,100.56 L146.67,100.27 L147.17,99.76 L147.68,99.36 L148.18,98.41 L148.68,97.54 L149.18,97.05 L149.68,95.37 L150.18,94.67 L150.69,93.00 L151.19,91.68 L151.69,91.03 L152.19,89.18 L152.69,88.00 L153.20,86.59 L153.70,86.73 L154.20,84.85 L154.70,83.68 L155.20,83.83 L155.70,83.78 L156.21,84.57 L156.71,83.49 L157.21,83.78 L157.71,83.04 L158.21,83.04 L158.72,83.27 L159.22,84.31 L159.72,83.32 L160.22,83.61 L160.72,85.06 L161.22,83.87 L161.73,85.03 L162.23,86.90 L162.73,86.08 L163.23,88.58 L163.73,89.24 L164.24,89.72 L164.74,91.09 L165.24,92.34 L165.74,93.41 L166.24,94.73 L166.74,95.90 L167.25,96.93 L167.75,97.83 L168.25,98.28 L168.75,98.95 L169.25,99.57 L169.76,99.98 L170.26,100.39 L170.76,100.64 L171.26,100.85 L171.76,101.00 L172.27,101.10 L172.77,101.17 L173.27,101.22 L173.77,101.25 L174.27,101.27 L174.77,101.28 L175.28,101.29 L175.78,101.30 L176.28,101.30 L176.78,101.30 L177.28,101.30 L177.79,101.30 L178.29,101.30 L178.79,101.30 L179.29,101.30 L179.79,101.30 L180.29,101.30 L180.80,101.30 L181.30,101.30 L181.80,101.30 L181.80,101.3 L127.10,101.3 Z" fill="#568e44" fill-opacity="0.06" stroke="none"/>
<path d="M127.10,101.30 L127.60,101.30 L128.10,101.30 L128.61,101.30 L129.11,101.30 L129.61,101.30 L130.11,101.30 L130.61,101.30 L131.11,101.30 L131.62,101.30 L132.12,101.30 L132.62,101.30 L133.12,101.30 L133.62,101.30 L134.13,101.30 L134.63,101.30 L135.13,101.30 L135.63,101.30 L136.13,101.30 L136.63,101.30 L137.14,101.30 L137.64,101.30 L138.14,101.30 L138.64,101.30 L139.14,101.30 L139.65,101.30 L140.15,101.30 L140.65,101.30 L141.15,101.30 L141.65,101.29 L142.16,101.29 L142.66,101.28 L143.16,101.26 L143.66,101.23 L144.16,101.18 L144.66,101.10 L145.17,100.98 L145.67,100.81 L146.17,100.56 L146.67,100.27 L147.17,99.76 L147.68,99.36 L148.18,98.41 L148.68,97.54 L149.18,97.05 L149.68,95.37 L150.18,94.67 L150.69,93.00 L151.19,91.68 L151.69,91.03 L152.19,89.18 L152.69,88.00 L153.20,86.59 L153.70,86.73 L154.20,84.85 L154.70,83.68 L155.20,83.83 L155.70,83.78 L156.21,84.57 L156.71,83.49 L157.21,83.78 L157.71,83.04 L158.21,83.04 L158.72,83.27 L159.22,84.31 L159.72,83.32 L160.22,83.61 L160.72,85.06 L161.22,83.87 L161.73,85.03 L162.23,86.90 L162.73,86.08 L163.23,88.58 L163.73,89.24 L164.24,89.72 L164.74,91.09 L165.24,92.34 L165.74,93.41 L166.24,94.73 L166.74,95.90 L167.25,96.93 L167.75,97.83 L168.25,98.28 L168.75,98.95 L169.25,99.57 L169.76,99.98 L170.26,100.39 L170.76,100.64 L171.26,100.85 L171.76,101.00 L172.27,101.10 L172.77,101.17 L173.27,101.22 L173.77,101.25 L174.27,101.27 L174.77,101.28 L175.28,101.29 L175.78,101.30 L176.28,101.30 L176.78,101.30 L177.28,101.30 L177.79,101.30 L178.29,101.30 L178.79,101.30 L179.29,101.30 L179.79,101.30 L180.29,101.30 L180.80,101.30 L181.30,101.30 L181.80,101.30" fill="none" stroke="#568e44" stroke-width="1.15" stroke-linejoin="round"/>
</g>
<rect x="126.5" y="32.5" width="55.900000000000006" height="68.6" fill="none" stroke="#111" stroke-width="1.3"/>
<line x1="195.4" y1="32.5" x2="195.4" y2="101.1" stroke="#c4c4ca" stroke-width="1"/>
<line x1="197.6" y1="32.5" x2="197.6" y2="101.1" stroke="#d6d6da" stroke-width="1"/>
<line x1="199.8" y1="32.5" x2="199.8" y2="101.1" stroke="#c4c4ca" stroke-width="1"/>
<line x1="213.4" y1="32.5" x2="213.4" y2="101.1" stroke="#d6d6da" stroke-width="1"/>
<line x1="227.1" y1="32.5" x2="227.1" y2="101.1" stroke="#d6d6da" stroke-width="1"/>
<line x1="239.6" y1="32.5" x2="239.6" y2="101.1" stroke="#d6d6da" stroke-width="1"/>
<clipPath id="c189_32"><rect x="190.2" y="33.1" width="54.30" height="67.40"/></clipPath>
<g clip-path="url(#c189_32)">
<path d="M190.20,56.04 L190.70,55.99 L191.21,55.93 L191.71,55.85 L192.21,55.76 L192.71,55.65 L193.22,55.53 L193.72,55.39 L194.22,55.22 L194.72,55.01 L195.23,54.66 L195.73,54.01 L196.23,52.74 L196.74,50.50 L197.24,47.11 L197.74,42.90 L198.24,38.86 L198.75,36.34 L199.25,36.25 L199.75,38.18 L200.26,41.45 L200.76,45.18 L201.26,48.58 L201.76,51.20 L202.27,52.95 L202.77,54.00 L203.27,54.60 L203.77,54.94 L204.28,55.15 L204.78,55.30 L205.28,55.44 L205.79,55.55 L206.29,55.66 L206.79,55.75 L207.29,55.83 L207.80,55.90 L208.30,55.96 L208.80,56.01 L209.31,56.05 L209.81,56.09 L210.31,56.11 L210.81,56.14 L211.32,56.15 L211.82,56.17 L212.32,56.17 L212.82,56.18 L213.33,56.19 L213.83,56.19 L214.33,56.19 L214.84,56.20 L215.34,56.20 L215.84,56.20 L216.34,56.20 L216.85,56.20 L217.35,56.20 L217.85,56.20 L218.36,56.20 L218.86,56.20 L219.36,56.20 L219.86,56.20 L220.37,56.20 L220.87,56.20 L221.37,56.20 L221.88,56.20 L222.38,56.20 L222.88,56.20 L223.38,56.20 L223.89,56.20 L224.39,56.20 L224.89,56.20 L225.39,56.20 L225.90,56.20 L226.40,56.20 L226.90,56.20 L227.41,56.20 L227.91,56.20 L228.41,56.20 L228.91,56.20 L229.42,56.20 L229.92,56.20 L230.42,56.20 L230.93,56.20 L231.43,56.20 L231.93,56.20 L232.43,56.20 L232.94,56.20 L233.44,56.20 L233.94,56.20 L234.44,56.20 L234.95,56.20 L235.45,56.20 L235.95,56.20 L236.46,56.20 L236.96,56.20 L237.46,56.20 L237.96,56.20 L238.47,56.20 L238.97,56.20 L239.47,56.20 L239.97,56.20 L240.48,56.20 L240.98,56.20 L241.48,56.20 L241.99,56.20 L242.49,56.20 L242.99,56.20 L243.49,56.20 L244.00,56.20 L244.50,56.20 L244.50,56.2 L190.20,56.2 Z" fill="#a36a40" fill-opacity="0.06" stroke="none"/>
<path d="M190.20,56.04 L190.70,55.99 L191.21,55.93 L191.71,55.85 L192.21,55.76 L192.71,55.65 L193.22,55.53 L193.72,55.39 L194.22,55.22 L194.72,55.01 L195.23,54.66 L195.73,54.01 L196.23,52.74 L196.74,50.50 L197.24,47.11 L197.74,42.90 L198.24,38.86 L198.75,36.34 L199.25,36.25 L199.75,38.18 L200.26,41.45 L200.76,45.18 L201.26,48.58 L201.76,51.20 L202.27,52.95 L202.77,54.00 L203.27,54.60 L203.77,54.94 L204.28,55.15 L204.78,55.30 L205.28,55.44 L205.79,55.55 L206.29,55.66 L206.79,55.75 L207.29,55.83 L207.80,55.90 L208.30,55.96 L208.80,56.01 L209.31,56.05 L209.81,56.09 L210.31,56.11 L210.81,56.14 L211.32,56.15 L211.82,56.17 L212.32,56.17 L212.82,56.18 L213.33,56.19 L213.83,56.19 L214.33,56.19 L214.84,56.20 L215.34,56.20 L215.84,56.20 L216.34,56.20 L216.85,56.20 L217.35,56.20 L217.85,56.20 L218.36,56.20 L218.86,56.20 L219.36,56.20 L219.86,56.20 L220.37,56.20 L220.87,56.20 L221.37,56.20 L221.88,56.20 L222.38,56.20 L222.88,56.20 L223.38,56.20 L223.89,56.20 L224.39,56.20 L224.89,56.20 L225.39,56.20 L225.90,56.20 L226.40,56.20 L226.90,56.20 L227.41,56.20 L227.91,56.20 L228.41,56.20 L228.91,56.20 L229.42,56.20 L229.92,56.20 L230.42,56.20 L230.93,56.20 L231.43,56.20 L231.93,56.20 L232.43,56.20 L232.94,56.20 L233.44,56.20 L233.94,56.20 L234.44,56.20 L234.95,56.20 L235.45,56.20 L235.95,56.20 L236.46,56.20 L236.96,56.20 L237.46,56.20 L237.96,56.20 L238.47,56.20 L238.97,56.20 L239.47,56.20 L239.97,56.20 L240.48,56.20 L240.98,56.20 L241.48,56.20 L241.99,56.20 L242.49,56.20 L242.99,56.20 L243.49,56.20 L244.00,56.20 L244.50,56.20" fill="none" stroke="#a36a40" stroke-width="1.15" stroke-linejoin="round"/>
<path d="M190.20,67.51 L190.70,67.44 L191.21,67.36 L191.71,67.28 L192.21,67.17 L192.71,67.06 L193.22,66.94 L193.72,66.78 L194.22,66.58 L194.72,66.26 L195.23,65.68 L195.73,64.67 L196.23,62.98 L196.74,60.46 L197.24,57.18 L197.74,53.58 L198.24,50.42 L198.75,48.55 L199.25,48.47 L199.75,49.79 L200.26,52.14 L200.76,55.06 L201.26,58.04 L201.76,60.69 L202.27,62.79 L202.77,64.31 L203.27,65.32 L203.77,65.96 L204.28,66.35 L204.78,66.60 L205.28,66.77 L205.79,66.90 L206.29,67.01 L206.79,67.11 L207.29,67.20 L207.80,67.28 L208.30,67.36 L208.80,67.42 L209.31,67.48 L209.81,67.54 L210.31,67.58 L210.81,67.62 L211.32,67.66 L211.82,67.68 L212.32,67.71 L212.82,67.73 L213.33,67.74 L213.83,67.76 L214.33,67.77 L214.84,67.77 L215.34,67.78 L215.84,67.78 L216.34,67.79 L216.85,67.79 L217.35,67.79 L217.85,67.80 L218.36,67.80 L218.86,67.80 L219.36,67.80 L219.86,67.80 L220.37,67.80 L220.87,67.80 L221.37,67.80 L221.88,67.80 L222.38,67.80 L222.88,67.80 L223.38,67.80 L223.89,67.80 L224.39,67.80 L224.89,67.80 L225.39,67.80 L225.90,67.80 L226.40,67.80 L226.90,67.80 L227.41,67.80 L227.91,67.80 L228.41,67.80 L228.91,67.80 L229.42,67.80 L229.92,67.80 L230.42,67.80 L230.93,67.80 L231.43,67.80 L231.93,67.80 L232.43,67.80 L232.94,67.80 L233.44,67.80 L233.94,67.80 L234.44,67.80 L234.95,67.80 L235.45,67.80 L235.95,67.80 L236.46,67.80 L236.96,67.80 L237.46,67.80 L237.96,67.80 L238.47,67.80 L238.97,67.80 L239.47,67.80 L239.97,67.80 L240.48,67.80 L240.98,67.80 L241.48,67.80 L241.99,67.80 L242.49,67.80 L242.99,67.80 L243.49,67.80 L244.00,67.80 L244.50,67.80 L244.50,67.8 L190.20,67.8 Z" fill="#26367a" fill-opacity="0.06" stroke="none"/>
<path d="M190.20,67.51 L190.70,67.44 L191.21,67.36 L191.71,67.28 L192.21,67.17 L192.71,67.06 L193.22,66.94 L193.72,66.78 L194.22,66.58 L194.72,66.26 L195.23,65.68 L195.73,64.67 L196.23,62.98 L196.74,60.46 L197.24,57.18 L197.74,53.58 L198.24,50.42 L198.75,48.55 L199.25,48.47 L199.75,49.79 L200.26,52.14 L200.76,55.06 L201.26,58.04 L201.76,60.69 L202.27,62.79 L202.77,64.31 L203.27,65.32 L203.77,65.96 L204.28,66.35 L204.78,66.60 L205.28,66.77 L205.79,66.90 L206.29,67.01 L206.79,67.11 L207.29,67.20 L207.80,67.28 L208.30,67.36 L208.80,67.42 L209.31,67.48 L209.81,67.54 L210.31,67.58 L210.81,67.62 L211.32,67.66 L211.82,67.68 L212.32,67.71 L212.82,67.73 L213.33,67.74 L213.83,67.76 L214.33,67.77 L214.84,67.77 L215.34,67.78 L215.84,67.78 L216.34,67.79 L216.85,67.79 L217.35,67.79 L217.85,67.80 L218.36,67.80 L218.86,67.80 L219.36,67.80 L219.86,67.80 L220.37,67.80 L220.87,67.80 L221.37,67.80 L221.88,67.80 L222.38,67.80 L222.88,67.80 L223.38,67.80 L223.89,67.80 L224.39,67.80 L224.89,67.80 L225.39,67.80 L225.90,67.80 L226.40,67.80 L226.90,67.80 L227.41,67.80 L227.91,67.80 L228.41,67.80 L228.91,67.80 L229.42,67.80 L229.92,67.80 L230.42,67.80 L230.93,67.80 L231.43,67.80 L231.93,67.80 L232.43,67.80 L232.94,67.80 L233.44,67.80 L233.94,67.80 L234.44,67.80 L234.95,67.80 L235.45,67.80 L235.95,67.80 L236.46,67.80 L236.96,67.80 L237.46,67.80 L237.96,67.80 L238.47,67.80 L238.97,67.80 L239.47,67.80 L239.97,67.80 L240.48,67.80 L240.98,67.80 L241.48,67.80 L241.99,67.80 L242.49,67.80 L242.99,67.80 L243.49,67.80 L244.00,67.80 L244.50,67.80" fill="none" stroke="#26367a" stroke-width="1.15" stroke-linejoin="round"/>
<path d="M190.20,79.11 L190.70,79.10 L191.21,79.08 L191.71,79.07 L192.21,79.05 L192.71,79.03 L193.22,79.00 L193.72,78.98 L194.22,78.95 L194.72,78.91 L195.23,78.88 L195.73,78.83 L196.23,78.78 L196.74,78.73 L197.24,78.66 L197.74,78.59 L198.24,78.51 L198.75,78.41 L199.25,78.30 L199.75,78.20 L200.26,78.05 L200.76,77.83 L201.26,77.76 L201.76,77.48 L202.27,77.30 L202.77,76.93 L203.27,76.72 L203.77,76.40 L204.28,76.02 L204.78,75.56 L205.28,75.02 L205.79,74.70 L206.29,73.92 L206.79,73.74 L207.29,73.04 L207.80,72.51 L208.30,71.82 L208.80,70.55 L209.31,69.81 L209.81,69.54 L210.31,68.75 L210.81,67.69 L211.32,66.47 L211.82,65.53 L212.32,64.80 L212.82,64.25 L213.33,64.20 L213.83,63.13 L214.33,62.86 L214.84,61.74 L215.34,61.19 L215.84,61.46 L216.34,61.08 L216.85,59.92 L217.35,61.20 L217.85,59.92 L218.36,59.92 L218.86,60.17 L219.36,61.83 L219.86,62.35 L220.37,63.26 L220.87,64.27 L221.37,64.97 L221.88,66.59 L222.38,68.26 L222.88,68.88 L223.38,70.42 L223.89,71.43 L224.39,72.38 L224.89,73.76 L225.39,74.19 L225.90,75.00 L226.40,75.73 L226.90,76.29 L227.41,76.79 L227.91,77.26 L228.41,77.54 L228.91,77.89 L229.42,78.07 L229.92,78.27 L230.42,78.43 L230.93,78.56 L231.43,78.67 L231.93,78.76 L232.43,78.84 L232.94,78.90 L233.44,78.95 L233.94,78.99 L234.44,79.03 L234.95,79.06 L235.45,79.08 L235.95,79.10 L236.46,79.12 L236.96,79.13 L237.46,79.15 L237.96,79.16 L238.47,79.16 L238.97,79.17 L239.47,79.18 L239.97,79.18 L240.48,79.19 L240.98,79.19 L241.48,79.19 L241.99,79.19 L242.49,79.19 L242.99,79.20 L243.49,79.20 L244.00,79.20 L244.50,79.20 L244.50,79.2 L190.20,79.2 Z" fill="#8e1533" fill-opacity="0.06" stroke="none"/>
<path d="M190.20,79.11 L190.70,79.10 L191.21,79.08 L191.71,79.07 L192.21,79.05 L192.71,79.03 L193.22,79.00 L193.72,78.98 L194.22,78.95 L194.72,78.91 L195.23,78.88 L195.73,78.83 L196.23,78.78 L196.74,78.73 L197.24,78.66 L197.74,78.59 L198.24,78.51 L198.75,78.41 L199.25,78.30 L199.75,78.20 L200.26,78.05 L200.76,77.83 L201.26,77.76 L201.76,77.48 L202.27,77.30 L202.77,76.93 L203.27,76.72 L203.77,76.40 L204.28,76.02 L204.78,75.56 L205.28,75.02 L205.79,74.70 L206.29,73.92 L206.79,73.74 L207.29,73.04 L207.80,72.51 L208.30,71.82 L208.80,70.55 L209.31,69.81 L209.81,69.54 L210.31,68.75 L210.81,67.69 L211.32,66.47 L211.82,65.53 L212.32,64.80 L212.82,64.25 L213.33,64.20 L213.83,63.13 L214.33,62.86 L214.84,61.74 L215.34,61.19 L215.84,61.46 L216.34,61.08 L216.85,59.92 L217.35,61.20 L217.85,59.92 L218.36,59.92 L218.86,60.17 L219.36,61.83 L219.86,62.35 L220.37,63.26 L220.87,64.27 L221.37,64.97 L221.88,66.59 L222.38,68.26 L222.88,68.88 L223.38,70.42 L223.89,71.43 L224.39,72.38 L224.89,73.76 L225.39,74.19 L225.90,75.00 L226.40,75.73 L226.90,76.29 L227.41,76.79 L227.91,77.26 L228.41,77.54 L228.91,77.89 L229.42,78.07 L229.92,78.27 L230.42,78.43 L230.93,78.56 L231.43,78.67 L231.93,78.76 L232.43,78.84 L232.94,78.90 L233.44,78.95 L233.94,78.99 L234.44,79.03 L234.95,79.06 L235.45,79.08 L235.95,79.10 L236.46,79.12 L236.96,79.13 L237.46,79.15 L237.96,79.16 L238.47,79.16 L238.97,79.17 L239.47,79.18 L239.97,79.18 L240.48,79.19 L240.98,79.19 L241.48,79.19 L241.99,79.19 L242.49,79.19 L242.99,79.20 L243.49,79.20 L244.00,79.20 L244.50,79.20" fill="none" stroke="#8e1533" stroke-width="1.15" stroke-linejoin="round"/>
<path d="M190.20,90.27 L190.70,90.25 L191.21,90.22 L191.71,90.18 L192.21,90.11 L192.71,90.02 L193.22,89.90 L193.72,89.73 L194.22,89.51 L194.72,89.21 L195.23,88.87 L195.73,88.40 L196.23,87.74 L196.74,87.09 L197.24,86.67 L197.74,85.52 L198.24,84.71 L198.75,84.19 L199.25,82.98 L199.75,82.14 L200.26,81.39 L200.76,79.95 L201.26,78.57 L201.76,78.64 L202.27,77.15 L202.77,76.81 L203.27,77.21 L203.77,75.56 L204.28,75.59 L204.78,74.61 L205.28,74.59 L205.79,74.14 L206.29,74.46 L206.79,73.09 L207.29,72.35 L207.80,71.99 L208.30,72.42 L208.80,71.28 L209.31,71.53 L209.81,72.12 L210.31,72.13 L210.81,72.03 L211.32,71.94 L211.82,72.67 L212.32,73.05 L212.82,74.14 L213.33,76.20 L213.83,78.28 L214.33,79.91 L214.84,82.14 L215.34,83.68 L215.84,85.00 L216.34,86.48 L216.85,87.58 L217.35,88.19 L217.85,88.87 L218.36,89.36 L218.86,89.69 L219.36,89.91 L219.86,90.06 L220.37,90.16 L220.87,90.22 L221.37,90.25 L221.88,90.27 L222.38,90.29 L222.88,90.29 L223.38,90.30 L223.89,90.30 L224.39,90.30 L224.89,90.30 L225.39,90.30 L225.90,90.30 L226.40,90.30 L226.90,90.30 L227.41,90.30 L227.91,90.30 L228.41,90.30 L228.91,90.30 L229.42,90.30 L229.92,90.30 L230.42,90.30 L230.93,90.30 L231.43,90.30 L231.93,90.30 L232.43,90.30 L232.94,90.30 L233.44,90.30 L233.94,90.30 L234.44,90.30 L234.95,90.30 L235.45,90.30 L235.95,90.30 L236.46,90.30 L236.96,90.30 L237.46,90.30 L237.96,90.30 L238.47,90.30 L238.97,90.30 L239.47,90.30 L239.97,90.30 L240.48,90.30 L240.98,90.30 L241.48,90.30 L241.99,90.30 L242.49,90.30 L242.99,90.30 L243.49,90.30 L244.00,90.30 L244.50,90.30 L244.50,90.3 L190.20,90.3 Z" fill="#a0bd90" fill-opacity="0.06" stroke="none"/>
<path d="M190.20,90.27 L190.70,90.25 L191.21,90.22 L191.71,90.18 L192.21,90.11 L192.71,90.02 L193.22,89.90 L193.72,89.73 L194.22,89.51 L194.72,89.21 L195.23,88.87 L195.73,88.40 L196.23,87.74 L196.74,87.09 L197.24,86.67 L197.74,85.52 L198.24,84.71 L198.75,84.19 L199.25,82.98 L199.75,82.14 L200.26,81.39 L200.76,79.95 L201.26,78.57 L201.76,78.64 L202.27,77.15 L202.77,76.81 L203.27,77.21 L203.77,75.56 L204.28,75.59 L204.78,74.61 L205.28,74.59 L205.79,74.14 L206.29,74.46 L206.79,73.09 L207.29,72.35 L207.80,71.99 L208.30,72.42 L208.80,71.28 L209.31,71.53 L209.81,72.12 L210.31,72.13 L210.81,72.03 L211.32,71.94 L211.82,72.67 L212.32,73.05 L212.82,74.14 L213.33,76.20 L213.83,78.28 L214.33,79.91 L214.84,82.14 L215.34,83.68 L215.84,85.00 L216.34,86.48 L216.85,87.58 L217.35,88.19 L217.85,88.87 L218.36,89.36 L218.86,89.69 L219.36,89.91 L219.86,90.06 L220.37,90.16 L220.87,90.22 L221.37,90.25 L221.88,90.27 L222.38,90.29 L222.88,90.29 L223.38,90.30 L223.89,90.30 L224.39,90.30 L224.89,90.30 L225.39,90.30 L225.90,90.30 L226.40,90.30 L226.90,90.30 L227.41,90.30 L227.91,90.30 L228.41,90.30 L228.91,90.30 L229.42,90.30 L229.92,90.30 L230.42,90.30 L230.93,90.30 L231.43,90.30 L231.93,90.30 L232.43,90.30 L232.94,90.30 L233.44,90.30 L233.94,90.30 L234.44,90.30 L234.95,90.30 L235.45,90.30 L235.95,90.30 L236.46,90.30 L236.96,90.30 L237.46,90.30 L237.96,90.30 L238.47,90.30 L238.97,90.30 L239.47,90.30 L239.97,90.30 L240.48,90.30 L240.98,90.30 L241.48,90.30 L241.99,90.30 L242.49,90.30 L242.99,90.30 L243.49,90.30 L244.00,90.30 L244.50,90.30" fill="none" stroke="#a0bd90" stroke-width="1.15" stroke-linejoin="round"/>
<path d="M190.20,101.30 L190.70,101.30 L191.21,101.30 L191.71,101.30 L192.21,101.30 L192.71,101.30 L193.22,101.30 L193.72,101.30 L194.22,101.30 L194.72,101.30 L195.23,101.30 L195.73,101.30 L196.23,101.30 L196.74,101.29 L197.24,101.29 L197.74,101.28 L198.24,101.27 L198.75,101.26 L199.25,101.23 L199.75,101.19 L200.26,101.13 L200.76,101.05 L201.26,100.94 L201.76,100.78 L202.27,100.57 L202.77,100.33 L203.27,100.01 L203.77,99.60 L204.28,99.13 L204.78,98.75 L205.28,98.31 L205.79,97.69 L206.29,96.83 L206.79,96.62 L207.29,95.90 L207.80,95.58 L208.30,95.10 L208.80,94.69 L209.31,94.06 L209.81,93.84 L210.31,93.51 L210.81,92.93 L211.32,92.29 L211.82,91.26 L212.32,91.06 L212.82,90.32 L213.33,88.84 L213.83,87.98 L214.33,86.53 L214.84,86.77 L215.34,85.25 L215.84,84.48 L216.34,84.59 L216.85,82.02 L217.35,83.27 L217.85,83.35 L218.36,82.46 L218.86,83.40 L219.36,82.91 L219.86,84.28 L220.37,85.71 L220.87,86.99 L221.37,87.12 L221.88,89.24 L222.38,89.97 L222.88,91.81 L223.38,92.71 L223.89,94.58 L224.39,95.76 L224.89,96.77 L225.39,97.41 L225.90,98.29 L226.40,99.03 L226.90,99.61 L227.41,99.93 L227.91,100.25 L228.41,100.57 L228.91,100.78 L229.42,100.93 L229.92,101.04 L230.42,101.12 L230.93,101.18 L231.43,101.22 L231.93,101.25 L232.43,101.27 L232.94,101.28 L233.44,101.29 L233.94,101.29 L234.44,101.30 L234.95,101.30 L235.45,101.30 L235.95,101.30 L236.46,101.30 L236.96,101.30 L237.46,101.30 L237.96,101.30 L238.47,101.30 L238.97,101.30 L239.47,101.30 L239.97,101.30 L240.48,101.30 L240.98,101.30 L241.48,101.30 L241.99,101.30 L242.49,101.30 L242.99,101.30 L243.49,101.30 L244.00,101.30 L244.50,101.30 L244.50,101.3 L190.20,101.3 Z" fill="#568e44" fill-opacity="0.06" stroke="none"/>
<path d="M190.20,101.30 L190.70,101.30 L191.21,101.30 L191.71,101.30 L192.21,101.30 L192.71,101.30 L193.22,101.30 L193.72,101.30 L194.22,101.30 L194.72,101.30 L195.23,101.30 L195.73,101.30 L196.23,101.30 L196.74,101.29 L197.24,101.29 L197.74,101.28 L198.24,101.27 L198.75,101.26 L199.25,101.23 L199.75,101.19 L200.26,101.13 L200.76,101.05 L201.26,100.94 L201.76,100.78 L202.27,100.57 L202.77,100.33 L203.27,100.01 L203.77,99.60 L204.28,99.13 L204.78,98.75 L205.28,98.31 L205.79,97.69 L206.29,96.83 L206.79,96.62 L207.29,95.90 L207.80,95.58 L208.30,95.10 L208.80,94.69 L209.31,94.06 L209.81,93.84 L210.31,93.51 L210.81,92.93 L211.32,92.29 L211.82,91.26 L212.32,91.06 L212.82,90.32 L213.33,88.84 L213.83,87.98 L214.33,86.53 L214.84,86.77 L215.34,85.25 L215.84,84.48 L216.34,84.59 L216.85,82.02 L217.35,83.27 L217.85,83.35 L218.36,82.46 L218.86,83.40 L219.36,82.91 L219.86,84.28 L220.37,85.71 L220.87,86.99 L221.37,87.12 L221.88,89.24 L222.38,89.97 L222.88,91.81 L223.38,92.71 L223.89,94.58 L224.39,95.76 L224.89,96.77 L225.39,97.41 L225.90,98.29 L226.40,99.03 L226.90,99.61 L227.41,99.93 L227.91,100.25 L228.41,100.57 L228.91,100.78 L229.42,100.93 L229.92,101.04 L230.42,101.12 L230.93,101.18 L231.43,101.22 L231.93,101.25 L232.43,101.27 L232.94,101.28 L233.44,101.29 L233.94,101.29 L234.44,101.30 L234.95,101.30 L235.45,101.30 L235.95,101.30 L236.46,101.30 L236.96,101.30 L237.46,101.30 L237.96,101.30 L238.47,101.30 L238.97,101.30 L239.47,101.30 L239.97,101.30 L240.48,101.30 L240.98,101.30 L241.48,101.30 L241.99,101.30 L242.49,101.30 L242.99,101.30 L243.49,101.30 L244.00,101.30 L244.50,101.30" fill="none" stroke="#568e44" stroke-width="1.15" stroke-linejoin="round"/>
</g>
<rect x="189.6" y="32.5" width="55.5" height="68.6" fill="none" stroke="#111" stroke-width="1.3"/>
<rect x="260.8" y="32.5" width="4.90" height="68.60" fill="#e8e8ec"/>
<line x1="261.3" y1="32.5" x2="261.3" y2="101.1" stroke="#c8c8ce" stroke-width="1"/>
<line x1="265.2" y1="32.5" x2="265.2" y2="101.1" stroke="#c8c8ce" stroke-width="1"/>
<line x1="275.4" y1="32.5" x2="275.4" y2="101.1" stroke="#d6d6da" stroke-width="1"/>
<line x1="290.2" y1="32.5" x2="290.2" y2="101.1" stroke="#d6d6da" stroke-width="1"/>
<line x1="303.0" y1="32.5" x2="303.0" y2="101.1" stroke="#d6d6da" stroke-width="1"/>
<clipPath id="c252_32"><rect x="253.2" y="33.1" width="54.60" height="67.40"/></clipPath>
<g clip-path="url(#c252_32)">
<path d="M253.20,55.64 L253.70,55.56 L254.20,55.48 L254.70,55.39 L255.20,55.30 L255.70,55.19 L256.21,55.09 L256.71,54.97 L257.21,54.85 L257.71,54.71 L258.21,54.56 L258.71,54.39 L259.21,54.17 L259.71,53.88 L260.21,53.49 L260.71,52.94 L261.21,52.20 L261.72,51.19 L262.22,49.88 L262.72,48.25 L263.22,46.32 L263.72,44.17 L264.22,41.94 L264.72,39.81 L265.22,37.99 L265.72,36.68 L266.22,36.05 L266.72,36.14 L267.23,36.86 L267.73,38.14 L268.23,39.84 L268.73,41.80 L269.23,43.87 L269.73,45.87 L270.23,47.72 L270.73,49.32 L271.23,50.65 L271.73,51.71 L272.23,52.53 L272.74,53.14 L273.24,53.60 L273.74,53.93 L274.24,54.19 L274.74,54.39 L275.24,54.55 L275.74,54.69 L276.24,54.82 L276.74,54.94 L277.24,55.04 L277.74,55.15 L278.25,55.24 L278.75,55.33 L279.25,55.42 L279.75,55.50 L280.25,55.57 L280.75,55.64 L281.25,55.71 L281.75,55.76 L282.25,55.82 L282.75,55.86 L283.26,55.91 L283.76,55.95 L284.26,55.98 L284.76,56.01 L285.26,56.04 L285.76,56.06 L286.26,56.08 L286.76,56.10 L287.26,56.12 L287.76,56.13 L288.26,56.14 L288.77,56.15 L289.27,56.16 L289.77,56.17 L290.27,56.17 L290.77,56.18 L291.27,56.18 L291.77,56.18 L292.27,56.19 L292.77,56.19 L293.27,56.19 L293.77,56.19 L294.28,56.19 L294.78,56.20 L295.28,56.20 L295.78,56.20 L296.28,56.20 L296.78,56.20 L297.28,56.20 L297.78,56.20 L298.28,56.20 L298.78,56.20 L299.28,56.20 L299.79,56.20 L300.29,56.20 L300.79,56.20 L301.29,56.20 L301.79,56.20 L302.29,56.20 L302.79,56.20 L303.29,56.20 L303.79,56.20 L304.29,56.20 L304.79,56.20 L305.30,56.20 L305.80,56.20 L306.30,56.20 L306.80,56.20 L307.30,56.20 L307.80,56.20 L307.80,56.2 L253.20,56.2 Z" fill="#a36a40" fill-opacity="0.06" stroke="none"/>
<path d="M253.20,55.64 L253.70,55.56 L254.20,55.48 L254.70,55.39 L255.20,55.30 L255.70,55.19 L256.21,55.09 L256.71,54.97 L257.21,54.85 L257.71,54.71 L258.21,54.56 L258.71,54.39 L259.21,54.17 L259.71,53.88 L260.21,53.49 L260.71,52.94 L261.21,52.20 L261.72,51.19 L262.22,49.88 L262.72,48.25 L263.22,46.32 L263.72,44.17 L264.22,41.94 L264.72,39.81 L265.22,37.99 L265.72,36.68 L266.22,36.05 L266.72,36.14 L267.23,36.86 L267.73,38.14 L268.23,39.84 L268.73,41.80 L269.23,43.87 L269.73,45.87 L270.23,47.72 L270.73,49.32 L271.23,50.65 L271.73,51.71 L272.23,52.53 L272.74,53.14 L273.24,53.60 L273.74,53.93 L274.24,54.19 L274.74,54.39 L275.24,54.55 L275.74,54.69 L276.24,54.82 L276.74,54.94 L277.24,55.04 L277.74,55.15 L278.25,55.24 L278.75,55.33 L279.25,55.42 L279.75,55.50 L280.25,55.57 L280.75,55.64 L281.25,55.71 L281.75,55.76 L282.25,55.82 L282.75,55.86 L283.26,55.91 L283.76,55.95 L284.26,55.98 L284.76,56.01 L285.26,56.04 L285.76,56.06 L286.26,56.08 L286.76,56.10 L287.26,56.12 L287.76,56.13 L288.26,56.14 L288.77,56.15 L289.27,56.16 L289.77,56.17 L290.27,56.17 L290.77,56.18 L291.27,56.18 L291.77,56.18 L292.27,56.19 L292.77,56.19 L293.27,56.19 L293.77,56.19 L294.28,56.19 L294.78,56.20 L295.28,56.20 L295.78,56.20 L296.28,56.20 L296.78,56.20 L297.28,56.20 L297.78,56.20 L298.28,56.20 L298.78,56.20 L299.28,56.20 L299.79,56.20 L300.29,56.20 L300.79,56.20 L301.29,56.20 L301.79,56.20 L302.29,56.20 L302.79,56.20 L303.29,56.20 L303.79,56.20 L304.29,56.20 L304.79,56.20 L305.30,56.20 L305.80,56.20 L306.30,56.20 L306.80,56.20 L307.30,56.20 L307.80,56.20" fill="none" stroke="#a36a40" stroke-width="1.15" stroke-linejoin="round"/>
<path d="M253.20,67.75 L253.70,67.75 L254.20,67.74 L254.70,67.73 L255.20,67.72 L255.70,67.71 L256.21,67.70 L256.71,67.69 L257.21,67.67 L257.71,67.66 L258.21,67.64 L258.71,67.62 L259.21,67.60 L259.71,67.58 L260.21,67.55 L260.71,67.53 L261.21,67.50 L261.72,67.47 L262.22,67.43 L262.72,67.39 L263.22,67.35 L263.72,67.31 L264.22,67.26 L264.72,67.21 L265.22,67.16 L265.72,67.10 L266.22,67.04 L266.72,66.98 L267.23,66.91 L267.73,66.83 L268.23,66.79 L268.73,66.71 L269.23,66.62 L269.73,66.52 L270.23,66.44 L270.73,66.33 L271.23,66.16 L271.73,66.02 L272.23,65.96 L272.74,65.73 L273.24,65.63 L273.74,65.42 L274.24,65.20 L274.74,64.98 L275.24,64.90 L275.74,64.58 L276.24,64.22 L276.74,63.79 L277.24,63.62 L277.74,63.14 L278.25,62.48 L278.75,62.18 L279.25,61.49 L279.75,60.85 L280.25,59.99 L280.75,59.08 L281.25,58.66 L281.75,57.47 L282.25,56.58 L282.75,55.59 L283.26,54.88 L283.76,53.68 L284.26,53.29 L284.76,52.44 L285.26,51.89 L285.76,50.71 L286.26,50.47 L286.76,50.28 L287.26,50.11 L287.76,49.38 L288.26,49.52 L288.77,49.64 L289.27,50.43 L289.77,50.97 L290.27,52.10 L290.77,52.52 L291.27,54.16 L291.77,54.89 L292.27,55.81 L292.77,57.01 L293.27,58.45 L293.77,59.38 L294.28,60.05 L294.78,61.02 L295.28,61.73 L295.78,62.44 L296.28,63.18 L296.78,63.59 L297.28,64.09 L297.78,64.56 L298.28,64.89 L298.78,65.22 L299.28,65.41 L299.79,65.56 L300.29,65.86 L300.79,65.98 L301.29,66.18 L301.79,66.32 L302.29,66.40 L302.79,66.56 L303.29,66.68 L303.79,66.77 L304.29,66.84 L304.79,66.94 L305.30,67.02 L305.80,67.10 L306.30,67.17 L306.80,67.24 L307.30,67.30 L307.80,67.35 L307.80,67.8 L253.20,67.8 Z" fill="#26367a" fill-opacity="0.06" stroke="none"/>
<path d="M253.20,67.75 L253.70,67.75 L254.20,67.74 L254.70,67.73 L255.20,67.72 L255.70,67.71 L256.21,67.70 L256.71,67.69 L257.21,67.67 L257.71,67.66 L258.21,67.64 L258.71,67.62 L259.21,67.60 L259.71,67.58 L260.21,67.55 L260.71,67.53 L261.21,67.50 L261.72,67.47 L262.22,67.43 L262.72,67.39 L263.22,67.35 L263.72,67.31 L264.22,67.26 L264.72,67.21 L265.22,67.16 L265.72,67.10 L266.22,67.04 L266.72,66.98 L267.23,66.91 L267.73,66.83 L268.23,66.79 L268.73,66.71 L269.23,66.62 L269.73,66.52 L270.23,66.44 L270.73,66.33 L271.23,66.16 L271.73,66.02 L272.23,65.96 L272.74,65.73 L273.24,65.63 L273.74,65.42 L274.24,65.20 L274.74,64.98 L275.24,64.90 L275.74,64.58 L276.24,64.22 L276.74,63.79 L277.24,63.62 L277.74,63.14 L278.25,62.48 L278.75,62.18 L279.25,61.49 L279.75,60.85 L280.25,59.99 L280.75,59.08 L281.25,58.66 L281.75,57.47 L282.25,56.58 L282.75,55.59 L283.26,54.88 L283.76,53.68 L284.26,53.29 L284.76,52.44 L285.26,51.89 L285.76,50.71 L286.26,50.47 L286.76,50.28 L287.26,50.11 L287.76,49.38 L288.26,49.52 L288.77,49.64 L289.27,50.43 L289.77,50.97 L290.27,52.10 L290.77,52.52 L291.27,54.16 L291.77,54.89 L292.27,55.81 L292.77,57.01 L293.27,58.45 L293.77,59.38 L294.28,60.05 L294.78,61.02 L295.28,61.73 L295.78,62.44 L296.28,63.18 L296.78,63.59 L297.28,64.09 L297.78,64.56 L298.28,64.89 L298.78,65.22 L299.28,65.41 L299.79,65.56 L300.29,65.86 L300.79,65.98 L301.29,66.18 L301.79,66.32 L302.29,66.40 L302.79,66.56 L303.29,66.68 L303.79,66.77 L304.29,66.84 L304.79,66.94 L305.30,67.02 L305.80,67.10 L306.30,67.17 L306.80,67.24 L307.30,67.30 L307.80,67.35" fill="none" stroke="#26367a" stroke-width="1.15" stroke-linejoin="round"/>
<path d="M253.20,79.01 L253.70,78.97 L254.20,78.93 L254.70,78.88 L255.20,78.82 L255.70,78.75 L256.21,78.67 L256.71,78.59 L257.21,78.49 L257.71,78.39 L258.21,78.28 L258.71,78.16 L259.21,78.03 L259.71,77.88 L260.21,77.73 L260.71,77.54 L261.21,77.29 L261.72,76.96 L262.22,76.47 L262.72,75.75 L263.22,74.71 L263.72,73.27 L264.22,71.40 L264.72,69.14 L265.22,66.66 L265.72,64.22 L266.22,62.14 L266.72,60.76 L267.23,60.30 L267.73,60.72 L268.23,61.86 L268.73,63.55 L269.23,65.60 L269.73,67.78 L270.23,69.88 L270.73,71.77 L271.23,73.36 L271.73,74.61 L272.23,75.56 L272.74,76.26 L273.24,76.75 L273.74,77.11 L274.24,77.37 L274.74,77.56 L275.24,77.73 L275.74,77.87 L276.24,77.99 L276.74,78.11 L277.24,78.22 L277.74,78.32 L278.25,78.41 L278.75,78.50 L279.25,78.58 L279.75,78.66 L280.25,78.73 L280.75,78.79 L281.25,78.84 L281.75,78.89 L282.25,78.94 L282.75,78.98 L283.26,79.01 L283.76,79.04 L284.26,79.07 L284.76,79.09 L285.26,79.11 L285.76,79.12 L286.26,79.14 L286.76,79.15 L287.26,79.16 L287.76,79.17 L288.26,79.17 L288.77,79.18 L289.27,79.18 L289.77,79.19 L290.27,79.19 L290.77,79.19 L291.27,79.19 L291.77,79.19 L292.27,79.20 L292.77,79.20 L293.27,79.20 L293.77,79.20 L294.28,79.20 L294.78,79.20 L295.28,79.20 L295.78,79.20 L296.28,79.20 L296.78,79.20 L297.28,79.20 L297.78,79.20 L298.28,79.20 L298.78,79.20 L299.28,79.20 L299.79,79.20 L300.29,79.20 L300.79,79.20 L301.29,79.20 L301.79,79.20 L302.29,79.20 L302.79,79.20 L303.29,79.20 L303.79,79.20 L304.29,79.20 L304.79,79.20 L305.30,79.20 L305.80,79.20 L306.30,79.20 L306.80,79.20 L307.30,79.20 L307.80,79.20 L307.80,79.2 L253.20,79.2 Z" fill="#8e1533" fill-opacity="0.06" stroke="none"/>
<path d="M253.20,79.01 L253.70,78.97 L254.20,78.93 L254.70,78.88 L255.20,78.82 L255.70,78.75 L256.21,78.67 L256.71,78.59 L257.21,78.49 L257.71,78.39 L258.21,78.28 L258.71,78.16 L259.21,78.03 L259.71,77.88 L260.21,77.73 L260.71,77.54 L261.21,77.29 L261.72,76.96 L262.22,76.47 L262.72,75.75 L263.22,74.71 L263.72,73.27 L264.22,71.40 L264.72,69.14 L265.22,66.66 L265.72,64.22 L266.22,62.14 L266.72,60.76 L267.23,60.30 L267.73,60.72 L268.23,61.86 L268.73,63.55 L269.23,65.60 L269.73,67.78 L270.23,69.88 L270.73,71.77 L271.23,73.36 L271.73,74.61 L272.23,75.56 L272.74,76.26 L273.24,76.75 L273.74,77.11 L274.24,77.37 L274.74,77.56 L275.24,77.73 L275.74,77.87 L276.24,77.99 L276.74,78.11 L277.24,78.22 L277.74,78.32 L278.25,78.41 L278.75,78.50 L279.25,78.58 L279.75,78.66 L280.25,78.73 L280.75,78.79 L281.25,78.84 L281.75,78.89 L282.25,78.94 L282.75,78.98 L283.26,79.01 L283.76,79.04 L284.26,79.07 L284.76,79.09 L285.26,79.11 L285.76,79.12 L286.26,79.14 L286.76,79.15 L287.26,79.16 L287.76,79.17 L288.26,79.17 L288.77,79.18 L289.27,79.18 L289.77,79.19 L290.27,79.19 L290.77,79.19 L291.27,79.19 L291.77,79.19 L292.27,79.20 L292.77,79.20 L293.27,79.20 L293.77,79.20 L294.28,79.20 L294.78,79.20 L295.28,79.20 L295.78,79.20 L296.28,79.20 L296.78,79.20 L297.28,79.20 L297.78,79.20 L298.28,79.20 L298.78,79.20 L299.28,79.20 L299.79,79.20 L300.29,79.20 L300.79,79.20 L301.29,79.20 L301.79,79.20 L302.29,79.20 L302.79,79.20 L303.29,79.20 L303.79,79.20 L304.29,79.20 L304.79,79.20 L305.30,79.20 L305.80,79.20 L306.30,79.20 L306.80,79.20 L307.30,79.20 L307.80,79.20" fill="none" stroke="#8e1533" stroke-width="1.15" stroke-linejoin="round"/>
<path d="M253.20,90.30 L253.70,90.30 L254.20,90.30 L254.70,90.30 L255.20,90.30 L255.70,90.29 L256.21,90.29 L256.71,90.28 L257.21,90.27 L257.71,90.25 L258.21,90.22 L258.71,90.18 L259.21,90.13 L259.71,90.05 L260.21,89.95 L260.71,89.83 L261.21,89.67 L261.72,89.49 L262.22,89.27 L262.72,89.14 L263.22,88.87 L263.72,88.46 L264.22,88.42 L264.72,88.11 L265.22,87.97 L265.72,87.70 L266.22,87.64 L266.72,87.48 L267.23,87.51 L267.73,87.58 L268.23,87.50 L268.73,87.43 L269.23,86.93 L269.73,87.03 L270.23,86.79 L270.73,85.89 L271.23,85.90 L271.73,84.91 L272.23,84.96 L272.74,84.07 L273.24,83.71 L273.74,82.52 L274.24,82.17 L274.74,81.62 L275.24,80.99 L275.74,80.41 L276.24,80.74 L276.74,80.04 L277.24,79.94 L277.74,80.12 L278.25,78.64 L278.75,78.60 L279.25,77.73 L279.75,78.21 L280.25,76.96 L280.75,76.37 L281.25,75.03 L281.75,75.59 L282.25,74.19 L282.75,73.08 L283.26,73.43 L283.76,71.66 L284.26,71.53 L284.76,71.53 L285.26,71.53 L285.76,71.53 L286.26,73.18 L286.76,73.87 L287.26,73.76 L287.76,76.66 L288.26,78.09 L288.77,80.25 L289.27,81.62 L289.77,83.16 L290.27,83.86 L290.77,85.33 L291.27,86.36 L291.77,87.26 L292.27,88.15 L292.77,88.67 L293.27,89.20 L293.77,89.53 L294.28,89.78 L294.78,89.95 L295.28,90.07 L295.78,90.15 L296.28,90.21 L296.78,90.24 L297.28,90.27 L297.78,90.28 L298.28,90.29 L298.78,90.29 L299.28,90.30 L299.79,90.30 L300.29,90.30 L300.79,90.30 L301.29,90.30 L301.79,90.30 L302.29,90.30 L302.79,90.30 L303.29,90.30 L303.79,90.30 L304.29,90.30 L304.79,90.30 L305.30,90.30 L305.80,90.30 L306.30,90.30 L306.80,90.30 L307.30,90.30 L307.80,90.30 L307.80,90.3 L253.20,90.3 Z" fill="#a0bd90" fill-opacity="0.06" stroke="none"/>
<path d="M253.20,90.30 L253.70,90.30 L254.20,90.30 L254.70,90.30 L255.20,90.30 L255.70,90.29 L256.21,90.29 L256.71,90.28 L257.21,90.27 L257.71,90.25 L258.21,90.22 L258.71,90.18 L259.21,90.13 L259.71,90.05 L260.21,89.95 L260.71,89.83 L261.21,89.67 L261.72,89.49 L262.22,89.27 L262.72,89.14 L263.22,88.87 L263.72,88.46 L264.22,88.42 L264.72,88.11 L265.22,87.97 L265.72,87.70 L266.22,87.64 L266.72,87.48 L267.23,87.51 L267.73,87.58 L268.23,87.50 L268.73,87.43 L269.23,86.93 L269.73,87.03 L270.23,86.79 L270.73,85.89 L271.23,85.90 L271.73,84.91 L272.23,84.96 L272.74,84.07 L273.24,83.71 L273.74,82.52 L274.24,82.17 L274.74,81.62 L275.24,80.99 L275.74,80.41 L276.24,80.74 L276.74,80.04 L277.24,79.94 L277.74,80.12 L278.25,78.64 L278.75,78.60 L279.25,77.73 L279.75,78.21 L280.25,76.96 L280.75,76.37 L281.25,75.03 L281.75,75.59 L282.25,74.19 L282.75,73.08 L283.26,73.43 L283.76,71.66 L284.26,71.53 L284.76,71.53 L285.26,71.53 L285.76,71.53 L286.26,73.18 L286.76,73.87 L287.26,73.76 L287.76,76.66 L288.26,78.09 L288.77,80.25 L289.27,81.62 L289.77,83.16 L290.27,83.86 L290.77,85.33 L291.27,86.36 L291.77,87.26 L292.27,88.15 L292.77,88.67 L293.27,89.20 L293.77,89.53 L294.28,89.78 L294.78,89.95 L295.28,90.07 L295.78,90.15 L296.28,90.21 L296.78,90.24 L297.28,90.27 L297.78,90.28 L298.28,90.29 L298.78,90.29 L299.28,90.30 L299.79,90.30 L300.29,90.30 L300.79,90.30 L301.29,90.30 L301.79,90.30 L302.29,90.30 L302.79,90.30 L303.29,90.30 L303.79,90.30 L304.29,90.30 L304.79,90.30 L305.30,90.30 L305.80,90.30 L306.30,90.30 L306.80,90.30 L307.30,90.30 L307.80,90.30" fill="none" stroke="#a0bd90" stroke-width="1.15" stroke-linejoin="round"/>
<path d="M253.20,101.30 L253.70,101.30 L254.20,101.30 L254.70,101.30 L255.20,101.30 L255.70,101.30 L256.21,101.30 L256.71,101.30 L257.21,101.30 L257.71,101.30 L258.21,101.30 L258.71,101.30 L259.21,101.30 L259.71,101.29 L260.21,101.28 L260.71,101.27 L261.21,101.25 L261.72,101.22 L262.22,101.16 L262.72,101.09 L263.22,100.98 L263.72,100.84 L264.22,100.66 L264.72,100.45 L265.22,100.23 L265.72,99.93 L266.22,99.70 L266.72,99.48 L267.23,99.40 L267.73,99.27 L268.23,99.32 L268.73,99.31 L269.23,99.47 L269.73,99.75 L270.23,99.91 L270.73,100.22 L271.23,100.43 L271.73,100.64 L272.23,100.81 L272.74,100.95 L273.24,101.05 L273.74,101.12 L274.24,101.15 L274.74,101.17 L275.24,101.15 L275.74,101.12 L276.24,101.06 L276.74,100.98 L277.24,100.87 L277.74,100.72 L278.25,100.54 L278.75,100.33 L279.25,99.97 L279.75,99.66 L280.25,99.18 L280.75,98.62 L281.25,98.14 L281.75,97.21 L282.25,96.54 L282.75,95.55 L283.26,94.56 L283.76,93.19 L284.26,91.95 L284.76,91.03 L285.26,89.91 L285.76,88.43 L286.26,87.03 L286.76,86.22 L287.26,85.01 L287.76,83.16 L288.26,82.38 L288.77,81.27 L289.27,80.90 L289.77,80.90 L290.27,81.54 L290.77,82.11 L291.27,82.34 L291.77,82.78 L292.27,83.56 L292.77,84.57 L293.27,85.95 L293.77,86.61 L294.28,88.54 L294.78,89.67 L295.28,90.62 L295.78,91.99 L296.28,93.55 L296.78,94.69 L297.28,95.44 L297.78,96.71 L298.28,97.46 L298.78,98.06 L299.28,98.68 L299.79,99.27 L300.29,99.72 L300.79,100.05 L301.29,100.32 L301.79,100.55 L302.29,100.74 L302.79,100.88 L303.29,100.99 L303.79,101.08 L304.29,101.14 L304.79,101.19 L305.30,101.22 L305.80,101.24 L306.30,101.26 L306.80,101.27 L307.30,101.28 L307.80,101.29 L307.80,101.3 L253.20,101.3 Z" fill="#568e44" fill-opacity="0.06" stroke="none"/>
<path d="M253.20,101.30 L253.70,101.30 L254.20,101.30 L254.70,101.30 L255.20,101.30 L255.70,101.30 L256.21,101.30 L256.71,101.30 L257.21,101.30 L257.71,101.30 L258.21,101.30 L258.71,101.30 L259.21,101.30 L259.71,101.29 L260.21,101.28 L260.71,101.27 L261.21,101.25 L261.72,101.22 L262.22,101.16 L262.72,101.09 L263.22,100.98 L263.72,100.84 L264.22,100.66 L264.72,100.45 L265.22,100.23 L265.72,99.93 L266.22,99.70 L266.72,99.48 L267.23,99.40 L267.73,99.27 L268.23,99.32 L268.73,99.31 L269.23,99.47 L269.73,99.75 L270.23,99.91 L270.73,100.22 L271.23,100.43 L271.73,100.64 L272.23,100.81 L272.74,100.95 L273.24,101.05 L273.74,101.12 L274.24,101.15 L274.74,101.17 L275.24,101.15 L275.74,101.12 L276.24,101.06 L276.74,100.98 L277.24,100.87 L277.74,100.72 L278.25,100.54 L278.75,100.33 L279.25,99.97 L279.75,99.66 L280.25,99.18 L280.75,98.62 L281.25,98.14 L281.75,97.21 L282.25,96.54 L282.75,95.55 L283.26,94.56 L283.76,93.19 L284.26,91.95 L284.76,91.03 L285.26,89.91 L285.76,88.43 L286.26,87.03 L286.76,86.22 L287.26,85.01 L287.76,83.16 L288.26,82.38 L288.77,81.27 L289.27,80.90 L289.77,80.90 L290.27,81.54 L290.77,82.11 L291.27,82.34 L291.77,82.78 L292.27,83.56 L292.77,84.57 L293.27,85.95 L293.77,86.61 L294.28,88.54 L294.78,89.67 L295.28,90.62 L295.78,91.99 L296.28,93.55 L296.78,94.69 L297.28,95.44 L297.78,96.71 L298.28,97.46 L298.78,98.06 L299.28,98.68 L299.79,99.27 L300.29,99.72 L300.79,100.05 L301.29,100.32 L301.79,100.55 L302.29,100.74 L302.79,100.88 L303.29,100.99 L303.79,101.08 L304.29,101.14 L304.79,101.19 L305.30,101.22 L305.80,101.24 L306.30,101.26 L306.80,101.27 L307.30,101.28 L307.80,101.29" fill="none" stroke="#568e44" stroke-width="1.15" stroke-linejoin="round"/>
</g>
<rect x="252.6" y="32.5" width="55.79999999999998" height="68.6" fill="none" stroke="#111" stroke-width="1.3"/>
<text x="60.9" y="56.7" font-size="6.9" text-anchor="end" font-weight="normal" fill="#2a2a2a" stroke="#2a2a2a" stroke-width="0.1" textLength="15.7" lengthAdjust="spacingAndGlyphs" >Mock</text>
<text x="60.9" y="68.1" font-size="6.9" text-anchor="end" font-weight="normal" fill="#2a2a2a" stroke="#2a2a2a" stroke-width="0.1" textLength="20.8" lengthAdjust="spacingAndGlyphs" >CD79a</text>
<text x="60.9" y="79.3" font-size="6.9" text-anchor="end" font-weight="normal" fill="#2a2a2a" stroke="#2a2a2a" stroke-width="0.1" textLength="16.6" lengthAdjust="spacingAndGlyphs" >CD19</text>
<text x="60.9" y="90.8" font-size="6.9" text-anchor="end" font-weight="normal" fill="#2a2a2a" stroke="#2a2a2a" stroke-width="0.1" textLength="33.8" lengthAdjust="spacingAndGlyphs" >tCD79a_19</text>
<text x="60.9" y="100.8" font-size="6.9" text-anchor="end" font-weight="normal" fill="#2a2a2a" stroke="#2a2a2a" stroke-width="0.1" textLength="35.7" lengthAdjust="spacingAndGlyphs" >bCD19_79a</text>
<text x="91.5" y="111.8" font-size="7.9" text-anchor="middle" font-weight="normal" fill="#222" stroke="#222" stroke-width="0.1" textLength="21.0" lengthAdjust="spacingAndGlyphs" >EGFR</text>
<text x="154.5" y="111.8" font-size="7.9" text-anchor="middle" font-weight="normal" fill="#222" stroke="#222" stroke-width="0.1" textLength="13.2" lengthAdjust="spacingAndGlyphs" >STII</text>
<text x="217.4" y="111.8" font-size="7.9" text-anchor="middle" font-weight="normal" fill="#222" stroke="#222" stroke-width="0.1" textLength="41.0" lengthAdjust="spacingAndGlyphs" >CD19-biotin</text>
<text x="280.9" y="111.8" font-size="7.9" text-anchor="middle" font-weight="normal" fill="#222" stroke="#222" stroke-width="0.1" textLength="38.7" lengthAdjust="spacingAndGlyphs" >CD79ab-Fc</text>
<circle cx="326.6" cy="7.3" r="2.1" fill="#fff" stroke="#c4506e" stroke-width="0.8"/>
<text x="332.0" y="9.9" font-size="6.9" text-anchor="start" font-weight="normal" fill="#222" stroke="#222" stroke-width="0.1" textLength="33.2" lengthAdjust="spacingAndGlyphs" >CD19 CAR</text>
<rect x="371.9" y="5.1" width="4.2" height="4.2" fill="#fafaf0" stroke="#c9cc9e" stroke-width="0.8"/>
<text x="379.8" y="9.9" font-size="6.9" text-anchor="start" font-weight="normal" fill="#222" stroke="#222" stroke-width="0.1" textLength="34.4" lengthAdjust="spacingAndGlyphs" >tCD79a_19</text>
<path d="M421.9,4.9 L424.2,9.2 L419.6,9.2 Z" fill="#fff" stroke="#78b062" stroke-width="0.75"/>
<text x="427.6" y="9.9" font-size="6.9" text-anchor="start" font-weight="normal" fill="#222" stroke="#222" stroke-width="0.1" textLength="36.4" lengthAdjust="spacingAndGlyphs" >bCD19_79a</text>
<path d="M471.9,5.0 L474.2,7.3 L471.9,9.6 L469.6,7.3 Z" fill="#fff" stroke="#3a3f80" stroke-width="0.85"/>
<text x="479.3" y="9.9" font-size="6.9" text-anchor="start" font-weight="normal" fill="#222" stroke="#222" stroke-width="0.1" textLength="36.9" lengthAdjust="spacingAndGlyphs" >CD79a CAR</text>
<line x1="362.4" y1="30.0" x2="362.4" y2="103.3" stroke="#111" stroke-width="1.1"/>
<line x1="358.9" y1="33.1" x2="362.4" y2="33.1" stroke="#111" stroke-width="1"/>
<text x="358.4" y="35.4" font-size="6.4" text-anchor="end" font-weight="normal" fill="#2a2a2a" stroke="#2a2a2a" stroke-width="0.1" textLength="13.2" lengthAdjust="spacingAndGlyphs" >1.25</text>
<line x1="358.9" y1="47.14" x2="362.4" y2="47.14" stroke="#111" stroke-width="1"/>
<text x="358.4" y="49.44" font-size="6.4" text-anchor="end" font-weight="normal" fill="#2a2a2a" stroke="#2a2a2a" stroke-width="0.1" textLength="13.2" lengthAdjust="spacingAndGlyphs" >1.00</text>
<line x1="358.9" y1="61.18" x2="362.4" y2="61.18" stroke="#111" stroke-width="1"/>
<text x="358.4" y="63.48" font-size="6.4" text-anchor="end" font-weight="normal" fill="#2a2a2a" stroke="#2a2a2a" stroke-width="0.1" textLength="13.2" lengthAdjust="spacingAndGlyphs" >0.75</text>
<line x1="358.9" y1="75.22" x2="362.4" y2="75.22" stroke="#111" stroke-width="1"/>
<text x="358.4" y="77.52" font-size="6.4" text-anchor="end" font-weight="normal" fill="#2a2a2a" stroke="#2a2a2a" stroke-width="0.1" textLength="13.2" lengthAdjust="spacingAndGlyphs" >0.50</text>
<line x1="358.9" y1="89.25999999999999" x2="362.4" y2="89.25999999999999" stroke="#111" stroke-width="1"/>
<text x="358.4" y="91.55999999999999" font-size="6.4" text-anchor="end" font-weight="normal" fill="#2a2a2a" stroke="#2a2a2a" stroke-width="0.1" textLength="13.2" lengthAdjust="spacingAndGlyphs" >0.25</text>
<line x1="358.9" y1="103.29999999999998" x2="362.4" y2="103.29999999999998" stroke="#111" stroke-width="1"/>
<text x="358.4" y="105.59999999999998" font-size="6.4" text-anchor="end" font-weight="normal" fill="#2a2a2a" stroke="#2a2a2a" stroke-width="0.1" textLength="13.2" lengthAdjust="spacingAndGlyphs" >0.00</text>
<line x1="361.84999999999997" y1="103.3" x2="423.5" y2="103.3" stroke="#111" stroke-width="1.1"/>
<line x1="377.8" y1="103.3" x2="377.8" y2="106.5" stroke="#111" stroke-width="1"/>
<line x1="409.6" y1="103.3" x2="409.6" y2="106.5" stroke="#111" stroke-width="1"/>
<text transform="translate(338.9,108.6) rotate(-90)" x="0" y="0" font-size="9.0" font-weight="bold" fill="#1a1a1a" stroke="#1a1a1a" stroke-width="0.2" textLength="83.7" lengthAdjust="spacingAndGlyphs">Normalized gMFI to CD19 CAR</text>
<text x="377.7" y="114.3" font-size="6.7" text-anchor="middle" font-weight="normal" fill="#222" stroke="#222" stroke-width="0.1" textLength="11.6" lengthAdjust="spacingAndGlyphs" >STII</text>
<text x="409.4" y="114.3" font-size="6.7" text-anchor="middle" font-weight="normal" fill="#222" stroke="#222" stroke-width="0.1" textLength="28.4" lengthAdjust="spacingAndGlyphs" >CD19-bio</text>
<line x1="366.1" y1="27.5" x2="387.5" y2="27.5" stroke="#222" stroke-width="1.0"/>
<line x1="366.1" y1="26.0" x2="366.1" y2="29.0" stroke="#222" stroke-width="1"/>
<line x1="387.5" y1="26.0" x2="387.5" y2="29.0" stroke="#222" stroke-width="1"/>
<text x="376.8" y="26.7" font-size="5.4" text-anchor="middle" font-weight="normal" fill="#3a3a3a" stroke="#3a3a3a" stroke-width="0.1" >ns</text>
<line x1="366.1" y1="34.6" x2="376.7" y2="34.6" stroke="#222" stroke-width="1.6"/>
<line x1="366.1" y1="33.1" x2="366.1" y2="36.1" stroke="#222" stroke-width="1"/>
<line x1="376.7" y1="33.1" x2="376.7" y2="36.1" stroke="#222" stroke-width="1"/>
<text x="371.4" y="33.2" font-size="5.4" text-anchor="middle" font-weight="normal" fill="#3a3a3a" stroke="#3a3a3a" stroke-width="0.1" >ns</text>
<line x1="376.7" y1="34.6" x2="387.5" y2="34.6" stroke="#222" stroke-width="1.6"/>
<line x1="376.7" y1="33.1" x2="376.7" y2="36.1" stroke="#222" stroke-width="1"/>
<line x1="387.5" y1="33.1" x2="387.5" y2="36.1" stroke="#222" stroke-width="1"/>
<text x="382.1" y="33.2" font-size="5.4" text-anchor="middle" font-weight="normal" fill="#3a3a3a" stroke="#3a3a3a" stroke-width="0.1" >ns</text>
<circle cx="376.7" cy="34.6" r="1.0" fill="#111"/>
<line x1="399.3" y1="27.5" x2="420.7" y2="27.5" stroke="#222" stroke-width="1.0"/>
<line x1="399.3" y1="26.0" x2="399.3" y2="29.0" stroke="#222" stroke-width="1"/>
<line x1="420.7" y1="26.0" x2="420.7" y2="29.0" stroke="#222" stroke-width="1"/>
<text x="410.0" y="26.6" font-size="5.4" text-anchor="middle" font-weight="normal" fill="#3a3a3a" stroke="#3a3a3a" stroke-width="0.1" >ns</text>
<line x1="399.3" y1="34.7" x2="410.0" y2="34.7" stroke="#222" stroke-width="1.6"/>
<line x1="399.3" y1="33.2" x2="399.3" y2="36.2" stroke="#222" stroke-width="1"/>
<line x1="410.0" y1="33.2" x2="410.0" y2="36.2" stroke="#222" stroke-width="1"/>
<text x="404.65" y="34.4" font-size="5.2" text-anchor="middle" font-weight="normal" fill="#3a3a3a" stroke="#3a3a3a" stroke-width="0.1" >***</text>
<line x1="410.0" y1="34.7" x2="420.7" y2="34.7" stroke="#222" stroke-width="1.6"/>
<line x1="410.0" y1="33.2" x2="410.0" y2="36.2" stroke="#222" stroke-width="1"/>
<line x1="420.7" y1="33.2" x2="420.7" y2="36.2" stroke="#222" stroke-width="1"/>
<text x="415.35" y="34.4" font-size="5.2" text-anchor="middle" font-weight="normal" fill="#3a3a3a" stroke="#3a3a3a" stroke-width="0.1" >****</text>
<circle cx="410.0" cy="34.7" r="1.0" fill="#111"/>
<ellipse cx="368.2" cy="47.2" rx="3.1" ry="2.3" fill="#6a1a32"/>
<circle cx="368.2" cy="46.400000000000006" r="0.55" fill="#d9a4b2"/><circle cx="368.2" cy="48.1" r="0.55" fill="#d9a4b2"/>
<rect x="374.45" y="39.85" width="4.3" height="4.3" fill="#fbfbf3" fill-opacity="0.7" stroke="#c9cc96" stroke-width="0.9"/>
<rect x="374.45" y="46.35" width="4.3" height="4.3" fill="#fbfbf3" fill-opacity="0.7" stroke="#c9cc96" stroke-width="0.9"/>
<rect x="374.45" y="48.65" width="4.3" height="4.3" fill="#fbfbf3" fill-opacity="0.7" stroke="#c9cc96" stroke-width="0.9"/>
<rect x="374.45" y="59.05" width="4.3" height="4.3" fill="#fbfbf3" fill-opacity="0.7" stroke="#c9cc96" stroke-width="0.9"/>
<line x1="376.6" y1="57.8" x2="376.6" y2="43.4" stroke="#1a1a1a" stroke-width="0.9"/>
<line x1="374.78000000000003" y1="57.8" x2="378.42" y2="57.8" stroke="#1a1a1a" stroke-width="0.9"/>
<line x1="374.78000000000003" y1="43.4" x2="378.42" y2="43.4" stroke="#1a1a1a" stroke-width="0.9"/>
<line x1="374.0" y1="51.2" x2="379.20000000000005" y2="51.2" stroke="#1a1a1a" stroke-width="0.9"/>
<path d="M385.60,37.02 L387.80,40.98 L383.40,40.98 Z" fill="#cfe6c2" fill-opacity="0.7" stroke="#5a9e40" stroke-width="0.9"/>
<path d="M385.60,40.22 L387.80,44.18 L383.40,44.18 Z" fill="#cfe6c2" fill-opacity="0.7" stroke="#5a9e40" stroke-width="0.9"/>
<path d="M385.60,45.82 L387.80,49.78 L383.40,49.78 Z" fill="#cfe6c2" fill-opacity="0.7" stroke="#5a9e40" stroke-width="0.9"/>
<path d="M385.60,48.32 L387.80,52.28 L383.40,52.28 Z" fill="#cfe6c2" fill-opacity="0.7" stroke="#5a9e40" stroke-width="0.9"/>
<line x1="385.6" y1="50.0" x2="385.6" y2="40.5" stroke="#1a1a1a" stroke-width="0.9"/>
<line x1="383.78000000000003" y1="50.0" x2="387.42" y2="50.0" stroke="#1a1a1a" stroke-width="0.9"/>
<line x1="383.78000000000003" y1="40.5" x2="387.42" y2="40.5" stroke="#1a1a1a" stroke-width="0.9"/>
<line x1="383.0" y1="45.0" x2="388.20000000000005" y2="45.0" stroke="#1a1a1a" stroke-width="0.9"/>
<ellipse cx="400.7" cy="47.2" rx="3.1" ry="2.3" fill="#6a1a32"/>
<circle cx="400.7" cy="46.400000000000006" r="0.55" fill="#d9a4b2"/><circle cx="400.7" cy="48.1" r="0.55" fill="#d9a4b2"/>
<rect x="407.20" y="79.60" width="4.6" height="4.6" fill="#fbfbf3" fill-opacity="0.7" stroke="#c9cc96" stroke-width="0.9"/>
<rect x="407.50" y="81.70" width="4.6" height="4.6" fill="#fbfbf3" fill-opacity="0.7" stroke="#c9cc96" stroke-width="0.9"/>
<rect x="407.10" y="83.00" width="4.6" height="4.6" fill="#fbfbf3" fill-opacity="0.7" stroke="#c9cc96" stroke-width="0.9"/>
<line x1="409.6" y1="82.6" x2="409.6" y2="85.8" stroke="#6a6a48" stroke-width="0.9"/>
<line x1="408.0" y1="84.2" x2="411.2" y2="84.2" stroke="#6a6a48" stroke-width="0.9"/>
<path d="M418.10,42.62 L420.30,46.58 L415.90,46.58 Z" fill="#cfe6c2" fill-opacity="0.7" stroke="#5a9e40" stroke-width="0.9"/>
<path d="M418.10,45.42 L420.30,49.38 L415.90,49.38 Z" fill="#cfe6c2" fill-opacity="0.7" stroke="#5a9e40" stroke-width="0.9"/>
<path d="M418.10,51.62 L420.30,55.58 L415.90,55.58 Z" fill="#cfe6c2" fill-opacity="0.7" stroke="#5a9e40" stroke-width="0.9"/>
<path d="M418.10,58.62 L420.30,62.58 L415.90,62.58 Z" fill="#cfe6c2" fill-opacity="0.7" stroke="#5a9e40" stroke-width="0.9"/>
<line x1="418.1" y1="56.6" x2="418.1" y2="45.6" stroke="#1a1a1a" stroke-width="0.9"/>
<line x1="416.0" y1="56.6" x2="420.20000000000005" y2="56.6" stroke="#1a1a1a" stroke-width="0.9"/>
<line x1="416.0" y1="45.6" x2="420.20000000000005" y2="45.6" stroke="#1a1a1a" stroke-width="0.9"/>
<line x1="415.1" y1="50.6" x2="421.1" y2="50.6" stroke="#1a1a1a" stroke-width="0.9"/>
<line x1="471.4" y1="30.0" x2="471.4" y2="103.3" stroke="#111" stroke-width="1.1"/>
<line x1="467.9" y1="33.1" x2="471.4" y2="33.1" stroke="#111" stroke-width="1"/>
<text x="467.5" y="35.4" font-size="6.4" text-anchor="end" font-weight="normal" fill="#2a2a2a" stroke="#2a2a2a" stroke-width="0.1" textLength="13.4" lengthAdjust="spacingAndGlyphs" >1.25</text>
<line x1="467.9" y1="47.14" x2="471.4" y2="47.14" stroke="#111" stroke-width="1"/>
<text x="467.5" y="49.44" font-size="6.4" text-anchor="end" font-weight="normal" fill="#2a2a2a" stroke="#2a2a2a" stroke-width="0.1" textLength="13.4" lengthAdjust="spacingAndGlyphs" >1.00</text>
<line x1="467.9" y1="61.18" x2="471.4" y2="61.18" stroke="#111" stroke-width="1"/>
<text x="467.5" y="63.48" font-size="6.4" text-anchor="end" font-weight="normal" fill="#2a2a2a" stroke="#2a2a2a" stroke-width="0.1" textLength="13.4" lengthAdjust="spacingAndGlyphs" >0.75</text>
<line x1="467.9" y1="75.22" x2="471.4" y2="75.22" stroke="#111" stroke-width="1"/>
<text x="467.5" y="77.52" font-size="6.4" text-anchor="end" font-weight="normal" fill="#2a2a2a" stroke="#2a2a2a" stroke-width="0.1" textLength="13.4" lengthAdjust="spacingAndGlyphs" >0.50</text>
<line x1="467.9" y1="89.25999999999999" x2="471.4" y2="89.25999999999999" stroke="#111" stroke-width="1"/>
<text x="467.5" y="91.55999999999999" font-size="6.4" text-anchor="end" font-weight="normal" fill="#2a2a2a" stroke="#2a2a2a" stroke-width="0.1" textLength="13.4" lengthAdjust="spacingAndGlyphs" >0.25</text>
<line x1="467.9" y1="103.29999999999998" x2="471.4" y2="103.29999999999998" stroke="#111" stroke-width="1"/>
<text x="467.5" y="105.59999999999998" font-size="6.4" text-anchor="end" font-weight="normal" fill="#2a2a2a" stroke="#2a2a2a" stroke-width="0.1" textLength="13.4" lengthAdjust="spacingAndGlyphs" >0.00</text>
<line x1="470.84999999999997" y1="103.3" x2="510.0" y2="103.3" stroke="#111" stroke-width="1.1"/>
<line x1="490.8" y1="103.3" x2="490.8" y2="106.5" stroke="#111" stroke-width="1"/>
<text transform="translate(447.9,110.7) rotate(-90)" x="0" y="0" font-size="9.0" font-weight="bold" fill="#1a1a1a" stroke="#1a1a1a" stroke-width="0.2" textLength="86.7" lengthAdjust="spacingAndGlyphs">Normalized gMFI to CD79a CAR</text>
<text x="490.6" y="113.9" font-size="6.7" text-anchor="middle" font-weight="normal" fill="#222" stroke="#222" stroke-width="0.1" textLength="34.2" lengthAdjust="spacingAndGlyphs" >CD79ab-Fc</text>
<line x1="478.2" y1="27.4" x2="502.7" y2="27.4" stroke="#222" stroke-width="1.0"/>
<line x1="478.2" y1="25.9" x2="478.2" y2="28.9" stroke="#222" stroke-width="1"/>
<line x1="502.7" y1="25.9" x2="502.7" y2="28.9" stroke="#222" stroke-width="1"/>
<text x="490.45" y="25.6" font-size="5.4" text-anchor="middle" font-weight="normal" fill="#3a3a3a" stroke="#3a3a3a" stroke-width="0.1" >ns</text>
<line x1="478.2" y1="33.8" x2="490.5" y2="33.8" stroke="#222" stroke-width="1.6"/>
<line x1="478.2" y1="32.3" x2="478.2" y2="35.3" stroke="#222" stroke-width="1"/>
<line x1="490.5" y1="32.3" x2="490.5" y2="35.3" stroke="#222" stroke-width="1"/>
<text x="484.35" y="33.7" font-size="5.2" text-anchor="middle" font-weight="normal" fill="#3a3a3a" stroke="#3a3a3a" stroke-width="0.1" >***</text>
<line x1="490.5" y1="33.8" x2="502.7" y2="33.8" stroke="#222" stroke-width="1.6"/>
<line x1="490.5" y1="32.3" x2="490.5" y2="35.3" stroke="#222" stroke-width="1"/>
<line x1="502.7" y1="32.3" x2="502.7" y2="35.3" stroke="#222" stroke-width="1"/>
<text x="496.6" y="33.7" font-size="5.2" text-anchor="middle" font-weight="normal" fill="#3a3a3a" stroke="#3a3a3a" stroke-width="0.1" >***</text>
<circle cx="490.5" cy="33.8" r="1.1" fill="#111"/>
<path d="M475.90,47.6 L478.06,45.20 L481.54,45.20 L483.70,47.6 L481.54,50.00 L478.06,50.00 Z" fill="#252b5c" stroke="#252b5c" stroke-width="0.4" stroke-linejoin="round"/>
<ellipse cx="479.8" cy="47.6" rx="1.56" ry="0.72" fill="#3a4280"/>
<rect x="488.05" y="67.35" width="4.3" height="4.3" fill="#fbfbf3" fill-opacity="0.7" stroke="#c9cc96" stroke-width="0.9"/>
<rect x="486.85" y="70.05" width="4.3" height="4.3" fill="#fbfbf3" fill-opacity="0.7" stroke="#c9cc96" stroke-width="0.9"/>
<rect x="489.65" y="73.85" width="4.3" height="4.3" fill="#fbfbf3" fill-opacity="0.7" stroke="#c9cc96" stroke-width="0.9"/>
<rect x="487.45" y="76.35" width="4.3" height="4.3" fill="#fbfbf3" fill-opacity="0.7" stroke="#c9cc96" stroke-width="0.9"/>
<rect x="488.85" y="79.35" width="4.3" height="4.3" fill="#fbfbf3" fill-opacity="0.7" stroke="#c9cc96" stroke-width="0.9"/>
<line x1="490.7" y1="79.0" x2="490.7" y2="71.0" stroke="#1a1a1a" stroke-width="0.9"/>
<line x1="488.88" y1="79.0" x2="492.52" y2="79.0" stroke="#1a1a1a" stroke-width="0.9"/>
<line x1="488.88" y1="71.0" x2="492.52" y2="71.0" stroke="#1a1a1a" stroke-width="0.9"/>
<line x1="488.09999999999997" y1="75.0" x2="493.3" y2="75.0" stroke="#1a1a1a" stroke-width="0.9"/>
<path d="M501.40,40.95 L503.90,45.45 L498.90,45.45 Z" fill="#cfe6c2" fill-opacity="0.7" stroke="#5a9e40" stroke-width="0.9"/>
<path d="M501.90,43.75 L504.40,48.25 L499.40,48.25 Z" fill="#cfe6c2" fill-opacity="0.7" stroke="#5a9e40" stroke-width="0.9"/>
<path d="M501.30,46.75 L503.80,51.25 L498.80,51.25 Z" fill="#cfe6c2" fill-opacity="0.7" stroke="#5a9e40" stroke-width="0.9"/>
<path d="M501.70,49.55 L504.20,54.05 L499.20,54.05 Z" fill="#cfe6c2" fill-opacity="0.7" stroke="#5a9e40" stroke-width="0.9"/>
<line x1="501.6" y1="50.6" x2="501.6" y2="44.2" stroke="#1a1a1a" stroke-width="0.9"/>
<line x1="499.36" y1="50.6" x2="503.84000000000003" y2="50.6" stroke="#1a1a1a" stroke-width="0.9"/>
<line x1="499.36" y1="44.2" x2="503.84000000000003" y2="44.2" stroke="#1a1a1a" stroke-width="0.9"/>
<line x1="498.40000000000003" y1="47.2" x2="504.8" y2="47.2" stroke="#1a1a1a" stroke-width="0.9"/>
<text x="59.3" y="154.6" font-size="7.6" text-anchor="end" font-weight="normal" fill="#2a2a2a" stroke="#2a2a2a" stroke-width="0.1" textLength="40.0" lengthAdjust="spacingAndGlyphs" >myc-CD79a</text>
<text x="59.3" y="165.4" font-size="7.6" text-anchor="end" font-weight="normal" fill="#2a2a2a" stroke="#2a2a2a" stroke-width="0.1" textLength="55.4" lengthAdjust="spacingAndGlyphs" >myc-tCD79a_19</text>
<path d="M89.2,196.6 L90.6,178 L92.2,162 L93.0,157 L94.1,153 L94.9,149 L95.6,152 L96.2,155.5 L97.3,154.5 L97.8,162 L98.4,180 L98.8,196.6" fill="none" stroke="#bcc496" stroke-width="1.0" stroke-linejoin="round"/>
<path d="M89.6,196.6 L91.0,178 L92.6,162 L93.3,157.5 L94.6,154.5 L95.6,151 L96.4,152.5 L97.9,149.4 L98.6,151 L99.0,160 L99.4,180 L99.9,196.6" fill="none" stroke="#2e3a6e" stroke-width="1.0" stroke-linejoin="round"/>
<path d="M136.5,196.6 L140,195.8 L143.7,195 L146,193.5 L147.6,192 L150,185 L151.6,178 L152.5,172 L152.9,165.5 L155,157 L156.9,149.7 L158.6,156 L160.5,165 L161.6,172 L163.4,184 L165.8,196.6" fill="none" stroke="#bcc496" stroke-width="1.0" stroke-linejoin="round"/>
<path d="M145.0,196.6 L146.6,196.2 L148.5,194 L150,192 L152,185 L154.0,176 L154.9,172 L154.6,165.5 L156.8,155 L158.5,147.5 L160.2,158 L161.7,172 L163.7,185 L165.2,192 L166.6,196.6" fill="none" stroke="#333c58" stroke-width="1.1" stroke-linejoin="round"/>
<path d="M218.6,196.6 L218.5,185 L218.5,173 L219.9,155 L220.7,149.5 L221.5,147.5 L222.4,150 L223.3,155 L224.6,173 L225.2,185 L225.7,196.6" fill="none" stroke="#3c4656" stroke-width="1.0" stroke-linejoin="round"/>
<path d="M217.6,196.6 L217.7,180 L218.0,168 L219.2,156 L220.3,150 L221.1,148.2 L221.9,151 L222.6,157 L223.6,172 L224.6,196.6" fill="none" stroke="#aab992" stroke-width="1.0" stroke-linejoin="round"/>
<path d="M272.8,196.6 L273.6,184 L274.3,172 L275.0,163 L275.6,157 L276.7,154.4 L277.6,155.5 L278.3,158 L278.8,165 L279.2,172 L280.4,184 L281.6,196.6" fill="none" stroke="#bcc496" stroke-width="1.0" stroke-linejoin="round"/>
<path d="M274.8,196.6 L275.7,184 L276.2,172 L276.7,165 L277.3,160 L278.5,153 L279.5,151 L280.3,154 L280.7,160 L281.2,166 L281.6,172 L282.8,184 L284.0,196.6" fill="none" stroke="#252b58" stroke-width="1.1" stroke-linejoin="round"/>
<rect x="63.3" y="141.5" width="56.40" height="55.50" fill="none" stroke="#111" stroke-width="1.3"/>
<rect x="126.6" y="141.5" width="56.00" height="55.50" fill="none" stroke="#111" stroke-width="1.3"/>
<rect x="189.7" y="141.5" width="55.70" height="55.50" fill="none" stroke="#111" stroke-width="1.3"/>
<rect x="252.5" y="141.5" width="56.20" height="55.50" fill="none" stroke="#111" stroke-width="1.3"/>
<rect x="67.6" y="149.0" width="7.4" height="6.5" fill="#fff" stroke="#2f3f70" stroke-width="1.3"/>
<rect x="67.6" y="159.8" width="7.4" height="6.5" fill="#fff" stroke="#c4caa6" stroke-width="1.3"/>
<line x1="156.3" y1="189.0" x2="161.6" y2="189.0" stroke="#3a3a3a" stroke-width="1.2"/>
<line x1="156.3" y1="188.0" x2="156.3" y2="190.0" stroke="#3a3a3a" stroke-width="0.9"/>
<line x1="161.6" y1="188.0" x2="161.6" y2="190.0" stroke="#3a3a3a" stroke-width="0.9"/>
<line x1="164.2" y1="167.1" x2="199.5" y2="167.1" stroke="#111" stroke-width="1.1"/>
<path d="M198.4,165.2 L203.2,167.1 L198.4,169.0 Z" fill="#111"/>
<text x="91.4" y="207.2" font-size="7.7" text-anchor="middle" font-weight="normal" fill="#222" stroke="#222" stroke-width="0.1" textLength="20.8" lengthAdjust="spacingAndGlyphs" >EGFR</text>
<text x="154.6" y="207.2" font-size="7.7" text-anchor="middle" font-weight="normal" fill="#222" stroke="#222" stroke-width="0.1" textLength="16.8" lengthAdjust="spacingAndGlyphs" >MYC</text>
<text x="217.6" y="207.2" font-size="7.7" text-anchor="middle" font-weight="normal" fill="#222" stroke="#222" stroke-width="0.1" textLength="16.8" lengthAdjust="spacingAndGlyphs" >MYC</text>
<text x="280.6" y="207.2" font-size="7.7" text-anchor="middle" font-weight="normal" fill="#222" stroke="#222" stroke-width="0.1" textLength="38.7" lengthAdjust="spacingAndGlyphs" >CD79ab-Fc</text>
<line x1="362.5" y1="140.0" x2="362.5" y2="217.8" stroke="#111" stroke-width="1.1"/>
<line x1="359.0" y1="143.4" x2="362.5" y2="143.4" stroke="#111" stroke-width="1"/>
<text x="358.3" y="145.70000000000002" font-size="6.4" text-anchor="end" font-weight="normal" fill="#2a2a2a" stroke="#2a2a2a" stroke-width="0.1" >1.1</text>
<line x1="359.0" y1="155.8" x2="362.5" y2="155.8" stroke="#111" stroke-width="1"/>
<text x="358.3" y="158.10000000000002" font-size="6.4" text-anchor="end" font-weight="normal" fill="#2a2a2a" stroke="#2a2a2a" stroke-width="0.1" >1.0</text>
<line x1="359.0" y1="168.20000000000002" x2="362.5" y2="168.20000000000002" stroke="#111" stroke-width="1"/>
<text x="358.3" y="170.50000000000003" font-size="6.4" text-anchor="end" font-weight="normal" fill="#2a2a2a" stroke="#2a2a2a" stroke-width="0.1" >0.9</text>
<line x1="359.0" y1="180.60000000000002" x2="362.5" y2="180.60000000000002" stroke="#111" stroke-width="1"/>
<text x="358.3" y="182.90000000000003" font-size="6.4" text-anchor="end" font-weight="normal" fill="#2a2a2a" stroke="#2a2a2a" stroke-width="0.1" >0.8</text>
<line x1="359.0" y1="193.0" x2="362.5" y2="193.0" stroke="#111" stroke-width="1"/>
<text x="358.3" y="195.3" font-size="6.4" text-anchor="end" font-weight="normal" fill="#2a2a2a" stroke="#2a2a2a" stroke-width="0.1" >0.7</text>
<line x1="359.0" y1="205.4" x2="362.5" y2="205.4" stroke="#111" stroke-width="1"/>
<text x="358.3" y="207.70000000000002" font-size="6.4" text-anchor="end" font-weight="normal" fill="#2a2a2a" stroke="#2a2a2a" stroke-width="0.1" >0.6</text>
<line x1="359.0" y1="217.8" x2="362.5" y2="217.8" stroke="#111" stroke-width="1"/>
<text x="358.3" y="220.10000000000002" font-size="6.4" text-anchor="end" font-weight="normal" fill="#2a2a2a" stroke="#2a2a2a" stroke-width="0.1" >0.5</text>
<line x1="361.95" y1="217.8" x2="436.6" y2="217.8" stroke="#111" stroke-width="1.1"/>
<line x1="373.6" y1="217.8" x2="373.6" y2="221.0" stroke="#111" stroke-width="1"/>
<line x1="399.5" y1="217.8" x2="399.5" y2="221.0" stroke="#111" stroke-width="1"/>
<line x1="425.4" y1="217.8" x2="425.4" y2="221.0" stroke="#111" stroke-width="1"/>
<text transform="translate(342.7,222.8) rotate(-90)" x="0" y="0" font-size="9.0" font-weight="bold" fill="#1a1a1a" stroke="#1a1a1a" stroke-width="0.2" textLength="87.2" lengthAdjust="spacingAndGlyphs">Normalized gMFI to CD79a CAR</text>
<line x1="366.5" y1="148.1" x2="379.5" y2="148.1" stroke="#222" stroke-width="1.0"/>
<line x1="366.5" y1="146.6" x2="366.5" y2="149.6" stroke="#222" stroke-width="1"/>
<line x1="379.5" y1="146.6" x2="379.5" y2="149.6" stroke="#222" stroke-width="1"/>
<text x="373.0" y="147.8" font-size="6.0" text-anchor="middle" font-weight="bold" fill="#3a3a3a" stroke="#3a3a3a" stroke-width="0.1" >*</text>
<line x1="391.8" y1="148.1" x2="404.9" y2="148.1" stroke="#222" stroke-width="1.0"/>
<line x1="391.8" y1="146.6" x2="391.8" y2="149.6" stroke="#222" stroke-width="1"/>
<line x1="404.9" y1="146.6" x2="404.9" y2="149.6" stroke="#222" stroke-width="1"/>
<text x="398.35" y="147.8" font-size="6.0" text-anchor="middle" font-weight="bold" fill="#3a3a3a" stroke="#3a3a3a" stroke-width="0.1" >**</text>
<line x1="418.9" y1="148.1" x2="432.3" y2="148.1" stroke="#222" stroke-width="1.0"/>
<line x1="418.9" y1="146.6" x2="418.9" y2="149.6" stroke="#222" stroke-width="1"/>
<line x1="432.3" y1="146.6" x2="432.3" y2="149.6" stroke="#222" stroke-width="1"/>
<text x="425.6" y="147.8" font-size="6.0" text-anchor="middle" font-weight="bold" fill="#3a3a3a" stroke="#3a3a3a" stroke-width="0.1" >***</text>
<path d="M365.70,155.9 L367.77,153.60 L370.03,153.60 L372.10,155.9 L370.03,158.20 L367.77,158.20 Z" fill="#252b5c" stroke="#252b5c" stroke-width="0.4" stroke-linejoin="round"/>
<ellipse cx="368.9" cy="155.9" rx="1.2800000000000002" ry="0.69" fill="#3a4280"/>
<path d="M391.40,155.9 L393.47,153.60 L395.73,153.60 L397.80,155.9 L395.73,158.20 L393.47,158.20 Z" fill="#252b5c" stroke="#252b5c" stroke-width="0.4" stroke-linejoin="round"/>
<ellipse cx="394.6" cy="155.9" rx="1.2800000000000002" ry="0.69" fill="#3a4280"/>
<path d="M417.30,155.9 L419.37,153.60 L421.63,153.60 L423.70,155.9 L421.63,158.20 L419.37,158.20 Z" fill="#252b5c" stroke="#252b5c" stroke-width="0.4" stroke-linejoin="round"/>
<ellipse cx="420.5" cy="155.9" rx="1.2800000000000002" ry="0.69" fill="#3a4280"/>
<rect x="376.45" y="175.05" width="4.3" height="4.3" fill="#fbfbf3" fill-opacity="0.7" stroke="#c9cc96" stroke-width="0.9"/>
<rect x="376.45" y="185.95" width="4.3" height="4.3" fill="#fbfbf3" fill-opacity="0.7" stroke="#c9cc96" stroke-width="0.9"/>
<rect x="376.45" y="190.15" width="4.3" height="4.3" fill="#fbfbf3" fill-opacity="0.7" stroke="#c9cc96" stroke-width="0.9"/>
<line x1="378.6" y1="193.5" x2="378.6" y2="178.5" stroke="#1a1a1a" stroke-width="0.9"/>
<line x1="376.78000000000003" y1="193.5" x2="380.42" y2="193.5" stroke="#1a1a1a" stroke-width="0.9"/>
<line x1="376.78000000000003" y1="178.5" x2="380.42" y2="178.5" stroke="#1a1a1a" stroke-width="0.9"/>
<line x1="376.0" y1="186.0" x2="381.20000000000005" y2="186.0" stroke="#1a1a1a" stroke-width="0.9"/>
<rect x="402.15" y="196.75" width="4.3" height="4.3" fill="#fbfbf3" fill-opacity="0.7" stroke="#c9cc96" stroke-width="0.9"/>
<rect x="402.15" y="204.55" width="4.3" height="4.3" fill="#fbfbf3" fill-opacity="0.7" stroke="#c9cc96" stroke-width="0.9"/>
<rect x="402.15" y="208.05" width="4.3" height="4.3" fill="#fbfbf3" fill-opacity="0.7" stroke="#c9cc96" stroke-width="0.9"/>
<line x1="404.3" y1="210.5" x2="404.3" y2="199.5" stroke="#1a1a1a" stroke-width="0.9"/>
<line x1="402.48" y1="210.5" x2="406.12" y2="210.5" stroke="#1a1a1a" stroke-width="0.9"/>
<line x1="402.48" y1="199.5" x2="406.12" y2="199.5" stroke="#1a1a1a" stroke-width="0.9"/>
<line x1="401.7" y1="205.0" x2="406.90000000000003" y2="205.0" stroke="#1a1a1a" stroke-width="0.9"/>
<rect x="427.30" y="185.90" width="4.6" height="4.6" fill="#fbfbf3" fill-opacity="0.7" stroke="#c9cc96" stroke-width="0.9"/>
<rect x="428.30" y="186.70" width="4.6" height="4.6" fill="#fbfbf3" fill-opacity="0.7" stroke="#c9cc96" stroke-width="0.9"/>
<line x1="428.4" y1="188.7" x2="431.8" y2="188.7" stroke="#2a2a2a" stroke-width="1.1"/>
<line x1="430.1" y1="187.2" x2="430.1" y2="190.2" stroke="#2a2a2a" stroke-width="1.1"/>
<text transform="translate(377.2,225.0) rotate(-45)" x="0" y="0" font-size="6.6" text-anchor="end" fill="#222" textLength="15.5" lengthAdjust="spacingAndGlyphs">MYC</text>
<text transform="translate(403.8,225.6) rotate(-45)" x="0" y="0" font-size="6.6" text-anchor="end" fill="#222" textLength="34.5" lengthAdjust="spacingAndGlyphs">CD79ab-Fc</text>
<text transform="translate(429.2,225.6) rotate(-45)" x="0" y="0" font-size="6.6" text-anchor="end" fill="#222" textLength="34.5" lengthAdjust="spacingAndGlyphs">CD79ab-Fc</text>
<text transform="translate(435.4,232.2) rotate(-45)" x="0" y="0" font-size="6.6" text-anchor="end" fill="#222" textLength="45.0" lengthAdjust="spacingAndGlyphs">(gated on Myc)</text>
<path d="M443.8,150.0 L446.1,152.3 L443.8,154.6 L441.5,152.3 Z" fill="#fff" stroke="#3a3f80" stroke-width="0.85"/>
<text x="449.2" y="154.9" font-size="7.0" text-anchor="start" font-weight="normal" fill="#222" stroke="#222" stroke-width="0.1" textLength="20.8" lengthAdjust="spacingAndGlyphs" >CD79a</text>
<rect x="441.6" y="160.6" width="4.4" height="4.4" fill="#fafaf0" stroke="#c9cc9e" stroke-width="0.8"/>
<text x="449.2" y="165.4" font-size="7.0" text-anchor="start" font-weight="normal" fill="#222" stroke="#222" stroke-width="0.1" textLength="34.6" lengthAdjust="spacingAndGlyphs" >tCD79a_19</text>
</svg>
</body></html>
